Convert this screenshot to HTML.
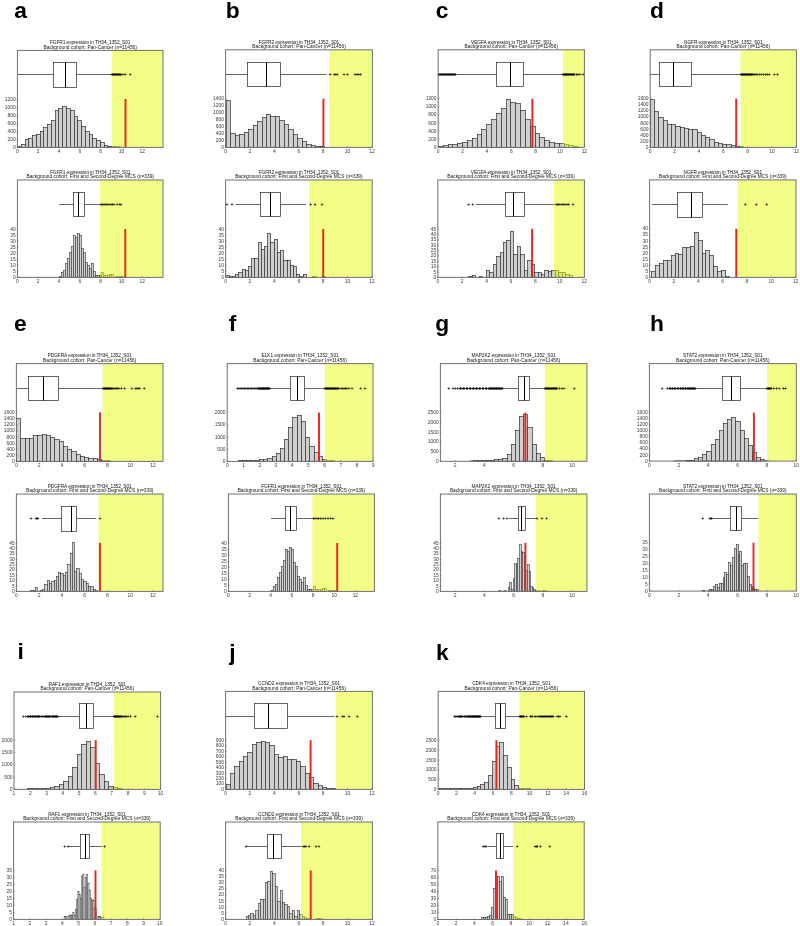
<!DOCTYPE html>
<html><head><meta charset="utf-8"><style>
html,body{margin:0;padding:0;background:#fff;}
svg{display:block;font-family:"Liberation Sans", sans-serif;will-change:transform;}
</style></head><body>
<svg width="800" height="926" viewBox="0 0 800 926">
<rect width="800" height="926" fill="#fff"/>
<g fill="#cfcfcf" stroke="#333" stroke-width="0.7"><rect x="17.5" y="146.5" width="4" height="0.9"/><rect x="21.5" y="144.5" width="4" height="2.9"/><rect x="25.5" y="139.5" width="3" height="7.9"/><rect x="28.5" y="138.5" width="4" height="8.9"/><rect x="32.5" y="135.5" width="4" height="11.9"/><rect x="36.5" y="134.5" width="4" height="12.9"/><rect x="40.5" y="131.5" width="3" height="15.9"/><rect x="43.5" y="127.5" width="4" height="19.9"/><rect x="47.5" y="124.5" width="4" height="22.9"/><rect x="51.5" y="120.5" width="4" height="26.9"/><rect x="55.5" y="110.5" width="3" height="36.9"/><rect x="58.5" y="108.5" width="4" height="38.9"/><rect x="62.5" y="106.5" width="4" height="40.9"/><rect x="66.5" y="108.5" width="4" height="38.9"/><rect x="70.5" y="110.5" width="4" height="36.9"/><rect x="74.5" y="116.5" width="3" height="30.9"/><rect x="77.5" y="120.5" width="4" height="26.9"/><rect x="81.5" y="126.5" width="4" height="20.9"/><rect x="85.5" y="131.5" width="4" height="15.9"/><rect x="89.5" y="134.5" width="3" height="12.9"/><rect x="92.5" y="138.5" width="4" height="8.9"/><rect x="96.5" y="140.5" width="4" height="6.9"/><rect x="100.5" y="142.5" width="4" height="4.9"/><rect x="104.5" y="145.5" width="3" height="1.9"/><rect x="107.5" y="146.5" width="4" height="0.9"/><rect x="111.5" y="146.5" width="4" height="0.9"/><rect x="115.5" y="146.5" width="4" height="0.9"/></g>
<g stroke="#333" stroke-width="0.75" fill="none"><path d="M17.4 74.5H53.5M76.5 74.5H112"/><rect x="53.5" y="62.5" width="23" height="25" fill="#fff"/></g>
<path d="M65.5 62.5V87.5" stroke="#000" stroke-width="1.0"/>
<rect x="112" y="50.4" width="51" height="97" fill="#e7fd0f" fill-opacity="0.5"/>
<g stroke="#000" stroke-opacity="0.7" stroke-width="0.85" fill="none"><path d="M110.75 74.5h2.5M112 73.25v2.5"/><path d="M111.45 74.5h2.5M112.7 73.25v2.5"/><path d="M112.15 74.5h2.5M113.4 73.25v2.5"/><path d="M112.85 74.5h2.5M114.1 73.25v2.5"/><path d="M113.55 74.5h2.5M114.8 73.25v2.5"/><path d="M114.25 74.5h2.5M115.5 73.25v2.5"/><path d="M114.95 74.5h2.5M116.2 73.25v2.5"/><path d="M115.65 74.5h2.5M116.9 73.25v2.5"/><path d="M116.35 74.5h2.5M117.6 73.25v2.5"/><path d="M117.05 74.5h2.5M118.3 73.25v2.5"/><path d="M117.75 74.5h2.5M119 73.25v2.5"/><path d="M118.45 74.5h2.5M119.7 73.25v2.5"/><path d="M119.15 74.5h2.5M120.4 73.25v2.5"/><path d="M119.85 74.5h2.5M121.1 73.25v2.5"/><path d="M121.75 74.5h2.5M123 73.25v2.5"/><path d="M124.05 74.5h2.5M125.3 73.25v2.5"/><path d="M128.95 74.5h2.5M130.2 73.25v2.5"/></g>
<rect x="124.55" y="99" width="1.9" height="48.4" fill="#f0201a"/>
<rect x="17.4" y="50.4" width="145.6" height="97" fill="none" stroke="#707070" stroke-width="1.0"/>
<path d="M17.4 147.4v-1.2M38.2 147.4v-1.2M59 147.4v-1.2M79.8 147.4v-1.2M100.6 147.4v-1.2M121.4 147.4v-1.2M142.2 147.4v-1.2M17.4 147.4h1.2M17.4 139.4h1.2M17.4 131.4h1.2M17.4 123.4h1.2M17.4 115.4h1.2M17.4 107.4h1.2M17.4 99.4h1.2" stroke="#555" stroke-width="0.5"/>
<g font-size="4.5" text-anchor="middle" fill="#3a3a3a"><text x="17.4" y="152.9" textLength="2.74" lengthAdjust="spacingAndGlyphs">0</text><text x="38.2" y="152.9" textLength="2.74" lengthAdjust="spacingAndGlyphs">2</text><text x="59" y="152.9" textLength="2.74" lengthAdjust="spacingAndGlyphs">4</text><text x="79.8" y="152.9" textLength="2.74" lengthAdjust="spacingAndGlyphs">6</text><text x="100.6" y="152.9" textLength="2.74" lengthAdjust="spacingAndGlyphs">8</text><text x="121.4" y="152.9" textLength="5.47" lengthAdjust="spacingAndGlyphs">10</text><text x="142.2" y="152.9" textLength="5.47" lengthAdjust="spacingAndGlyphs">12</text></g>
<g font-size="4.5" text-anchor="end" fill="#3a3a3a"><text x="15.8" y="148.9" textLength="2.74" lengthAdjust="spacingAndGlyphs">0</text><text x="15.8" y="140.9" textLength="8.21" lengthAdjust="spacingAndGlyphs">200</text><text x="15.8" y="132.9" textLength="8.21" lengthAdjust="spacingAndGlyphs">400</text><text x="15.8" y="124.9" textLength="8.21" lengthAdjust="spacingAndGlyphs">600</text><text x="15.8" y="116.9" textLength="8.21" lengthAdjust="spacingAndGlyphs">800</text><text x="15.8" y="108.9" textLength="10.94" lengthAdjust="spacingAndGlyphs">1000</text><text x="15.8" y="100.9" textLength="10.94" lengthAdjust="spacingAndGlyphs">1200</text></g>
<g font-size="4.8" letter-spacing="0" text-anchor="middle" fill="#111"><text x="90.2" y="44.1" textLength="80.55" lengthAdjust="spacing">FGFR1 expression in TH34_1352_S01</text><text x="90.2" y="48.6" textLength="93.47" lengthAdjust="spacing">Background cohort: Pan-Cancer (n=11456)</text></g>
<g fill="#cfcfcf" stroke="#333" stroke-width="0.58"><rect x="59.5" y="276.5" width="2" height="0.9"/><rect x="61.5" y="272.5" width="2" height="4.9"/><rect x="63.5" y="270.5" width="2" height="6.9"/><rect x="65.5" y="263.5" width="2" height="13.9"/><rect x="67.5" y="258.5" width="2" height="18.9"/><rect x="69.5" y="252.5" width="2" height="24.9"/><rect x="71.5" y="246.5" width="2" height="30.9"/><rect x="73.5" y="235.5" width="2" height="41.9"/><rect x="75.5" y="237.5" width="2" height="39.9"/><rect x="77.5" y="233.5" width="2" height="43.9"/><rect x="79.5" y="235.5" width="2" height="41.9"/><rect x="81.5" y="248.5" width="2" height="28.9"/><rect x="83.5" y="252.5" width="2" height="24.9"/><rect x="85.5" y="262.5" width="2" height="14.9"/><rect x="87.5" y="265.5" width="2" height="11.9"/><rect x="89.5" y="268.5" width="2" height="8.9"/><rect x="91.5" y="263.5" width="2" height="13.9"/><rect x="93.5" y="271.5" width="2" height="5.9"/><rect x="95.5" y="275.5" width="2" height="1.9"/><rect x="97.5" y="275.5" width="2" height="1.9"/><rect x="99.5" y="275.5" width="2" height="1.9"/><rect x="101.5" y="272.5" width="2" height="4.9"/><rect x="103.5" y="275.5" width="2" height="1.9"/><rect x="105.5" y="275.5" width="2" height="1.9"/><rect x="107.5" y="275.5" width="2" height="1.9"/><rect x="109.5" y="274.5" width="2" height="2.9"/><rect x="111.5" y="274.5" width="2" height="2.9"/><rect x="115.5" y="276.5" width="2" height="0.9"/><rect x="117.5" y="276.5" width="2" height="0.9"/><rect x="119.5" y="276.5" width="2" height="0.9"/><rect x="121.5" y="276.5" width="2" height="0.9"/></g>
<g stroke="#333" stroke-width="0.75" fill="none"><path d="M59.2 204.5H73.5M84.5 204.5H100"/><rect x="73.5" y="192.5" width="11" height="24" fill="#fff"/></g>
<path d="M78.5 192.5V216.5" stroke="#000" stroke-width="1.0"/>
<rect x="100" y="180" width="63" height="97.4" fill="#e7fd0f" fill-opacity="0.5"/>
<g stroke="#000" stroke-opacity="0.7" stroke-width="0.85" fill="none"><path d="M99.75 204.5h2.5M101 203.25v2.5"/><path d="M101.15 204.5h2.5M102.4 203.25v2.5"/><path d="M102.75 204.5h2.5M104 203.25v2.5"/><path d="M104.35 204.5h2.5M105.6 203.25v2.5"/><path d="M105.95 204.5h2.5M107.2 203.25v2.5"/><path d="M107.75 204.5h2.5M109 203.25v2.5"/><path d="M109.75 204.5h2.5M111 203.25v2.5"/><path d="M111.15 204.5h2.5M112.4 203.25v2.5"/><path d="M112.75 204.5h2.5M114 203.25v2.5"/><path d="M115.75 204.5h2.5M117 203.25v2.5"/><path d="M118.35 204.5h2.5M119.6 203.25v2.5"/><path d="M119.75 204.5h2.5M121 203.25v2.5"/></g>
<rect x="124.35" y="229" width="1.9" height="48.4" fill="#f0201a"/>
<rect x="17.4" y="180" width="145.6" height="97.4" fill="none" stroke="#707070" stroke-width="1.0"/>
<path d="M17.4 277.4v-1.2M38.2 277.4v-1.2M59 277.4v-1.2M79.8 277.4v-1.2M100.6 277.4v-1.2M121.4 277.4v-1.2M142.2 277.4v-1.2M17.4 277.4h1.2M17.4 271.35h1.2M17.4 265.3h1.2M17.4 259.25h1.2M17.4 253.2h1.2M17.4 247.15h1.2M17.4 241.1h1.2M17.4 235.05h1.2M17.4 229h1.2" stroke="#555" stroke-width="0.5"/>
<g font-size="4.5" text-anchor="middle" fill="#3a3a3a"><text x="17.4" y="282.9" textLength="2.74" lengthAdjust="spacingAndGlyphs">0</text><text x="38.2" y="282.9" textLength="2.74" lengthAdjust="spacingAndGlyphs">2</text><text x="59" y="282.9" textLength="2.74" lengthAdjust="spacingAndGlyphs">4</text><text x="79.8" y="282.9" textLength="2.74" lengthAdjust="spacingAndGlyphs">6</text><text x="100.6" y="282.9" textLength="2.74" lengthAdjust="spacingAndGlyphs">8</text><text x="121.4" y="282.9" textLength="5.47" lengthAdjust="spacingAndGlyphs">10</text><text x="142.2" y="282.9" textLength="5.47" lengthAdjust="spacingAndGlyphs">12</text></g>
<g font-size="4.5" text-anchor="end" fill="#3a3a3a"><text x="15.8" y="278.9" textLength="2.74" lengthAdjust="spacingAndGlyphs">0</text><text x="15.8" y="272.85" textLength="2.74" lengthAdjust="spacingAndGlyphs">5</text><text x="15.8" y="266.8" textLength="5.47" lengthAdjust="spacingAndGlyphs">10</text><text x="15.8" y="260.75" textLength="5.47" lengthAdjust="spacingAndGlyphs">15</text><text x="15.8" y="254.7" textLength="5.47" lengthAdjust="spacingAndGlyphs">20</text><text x="15.8" y="248.65" textLength="5.47" lengthAdjust="spacingAndGlyphs">25</text><text x="15.8" y="242.6" textLength="5.47" lengthAdjust="spacingAndGlyphs">30</text><text x="15.8" y="236.55" textLength="5.47" lengthAdjust="spacingAndGlyphs">35</text><text x="15.8" y="230.5" textLength="5.47" lengthAdjust="spacingAndGlyphs">40</text></g>
<g font-size="4.8" letter-spacing="0" text-anchor="middle" fill="#111"><text x="90.2" y="173.7" textLength="80.55" lengthAdjust="spacing">FGFR1 expression in TH34_1352_S01</text><text x="90.2" y="178.2" textLength="127.49" lengthAdjust="spacing">Background cohort: First and Second-Degree MCS (n=339)</text></g>
<g fill="#cfcfcf" stroke="#333" stroke-width="0.7"><rect x="226.5" y="100.5" width="4" height="46.9"/><rect x="230.5" y="133.5" width="5" height="13.9"/><rect x="235.5" y="135.5" width="4" height="11.9"/><rect x="239.5" y="134.5" width="5" height="12.9"/><rect x="244.5" y="132.5" width="4" height="14.9"/><rect x="248.5" y="129.5" width="5" height="17.9"/><rect x="253.5" y="125.5" width="4" height="21.9"/><rect x="257.5" y="121.5" width="5" height="25.9"/><rect x="262.5" y="117.5" width="4" height="29.9"/><rect x="266.5" y="114.5" width="4" height="32.9"/><rect x="270.5" y="116.5" width="5" height="30.9"/><rect x="275.5" y="116.5" width="4" height="30.9"/><rect x="279.5" y="120.5" width="5" height="26.9"/><rect x="284.5" y="124.5" width="4" height="22.9"/><rect x="288.5" y="129.5" width="5" height="17.9"/><rect x="293.5" y="134.5" width="4" height="12.9"/><rect x="297.5" y="138.5" width="5" height="8.9"/><rect x="302.5" y="141.5" width="4" height="5.9"/><rect x="306.5" y="144.5" width="5" height="2.9"/><rect x="311.5" y="145.5" width="4" height="1.9"/><rect x="315.5" y="146.5" width="5" height="0.9"/><rect x="320.5" y="146.5" width="4" height="0.9"/></g>
<g stroke="#333" stroke-width="0.75" fill="none"><path d="M225.6 74.5H247.5M280.5 74.5H326.6"/><rect x="247.5" y="62.5" width="33" height="24" fill="#fff"/></g>
<path d="M266.5 62.5V86.5" stroke="#000" stroke-width="1.0"/>
<rect x="329.2" y="49.8" width="43.2" height="97.6" fill="#e7fd0f" fill-opacity="0.5"/>
<g stroke="#000" stroke-opacity="0.7" stroke-width="0.85" fill="none"><path d="M328.95 74.5h2.5M330.2 73.25v2.5"/><path d="M333.15 74.5h2.5M334.4 73.25v2.5"/><path d="M334.55 74.5h2.5M335.8 73.25v2.5"/><path d="M336.15 74.5h2.5M337.4 73.25v2.5"/><path d="M342.75 74.5h2.5M344 73.25v2.5"/><path d="M346.15 74.5h2.5M347.4 73.25v2.5"/><path d="M353.75 74.5h2.5M355 73.25v2.5"/><path d="M355.75 74.5h2.5M357 73.25v2.5"/><path d="M357.35 74.5h2.5M358.6 73.25v2.5"/><path d="M359.35 74.5h2.5M360.6 73.25v2.5"/></g>
<rect x="322.45" y="98.7" width="1.9" height="48.7" fill="#f0201a"/>
<rect x="225.6" y="49.8" width="146.8" height="97.6" fill="none" stroke="#707070" stroke-width="1.0"/>
<path d="M225.6 147.4v-1.2M250 147.4v-1.2M274.4 147.4v-1.2M298.8 147.4v-1.2M323.2 147.4v-1.2M347.6 147.4v-1.2M372 147.4v-1.2M225.6 147.4h1.2M225.6 140.43h1.2M225.6 133.46h1.2M225.6 126.49h1.2M225.6 119.51h1.2M225.6 112.54h1.2M225.6 105.57h1.2M225.6 98.6h1.2" stroke="#555" stroke-width="0.5"/>
<g font-size="4.5" text-anchor="middle" fill="#3a3a3a"><text x="225.6" y="152.9" textLength="2.74" lengthAdjust="spacingAndGlyphs">0</text><text x="250" y="152.9" textLength="2.74" lengthAdjust="spacingAndGlyphs">2</text><text x="274.4" y="152.9" textLength="2.74" lengthAdjust="spacingAndGlyphs">4</text><text x="298.8" y="152.9" textLength="2.74" lengthAdjust="spacingAndGlyphs">6</text><text x="323.2" y="152.9" textLength="2.74" lengthAdjust="spacingAndGlyphs">8</text><text x="347.6" y="152.9" textLength="5.47" lengthAdjust="spacingAndGlyphs">10</text><text x="372" y="152.9" textLength="5.47" lengthAdjust="spacingAndGlyphs">12</text></g>
<g font-size="4.5" text-anchor="end" fill="#3a3a3a"><text x="224" y="148.9" textLength="2.74" lengthAdjust="spacingAndGlyphs">0</text><text x="224" y="141.93" textLength="8.21" lengthAdjust="spacingAndGlyphs">200</text><text x="224" y="134.96" textLength="8.21" lengthAdjust="spacingAndGlyphs">400</text><text x="224" y="127.99" textLength="8.21" lengthAdjust="spacingAndGlyphs">600</text><text x="224" y="121.01" textLength="8.21" lengthAdjust="spacingAndGlyphs">800</text><text x="224" y="114.04" textLength="10.94" lengthAdjust="spacingAndGlyphs">1000</text><text x="224" y="107.07" textLength="10.94" lengthAdjust="spacingAndGlyphs">1200</text><text x="224" y="100.1" textLength="10.94" lengthAdjust="spacingAndGlyphs">1400</text></g>
<g font-size="4.8" letter-spacing="0" text-anchor="middle" fill="#111"><text x="299" y="43.5" textLength="80.55" lengthAdjust="spacing">FGFR2 expression in TH34_1352_S01</text><text x="299" y="48" textLength="93.47" lengthAdjust="spacing">Background cohort: Pan-Cancer (n=11456)</text></g>
<g fill="#cfcfcf" stroke="#333" stroke-width="0.7"><rect x="225.5" y="275.5" width="4" height="1.9"/><rect x="229.5" y="276.5" width="3" height="0.9"/><rect x="232.5" y="276.5" width="3" height="0.9"/><rect x="235.5" y="274.5" width="3" height="2.9"/><rect x="238.5" y="272.5" width="4" height="4.9"/><rect x="242.5" y="269.5" width="3" height="7.9"/><rect x="245.5" y="270.5" width="3" height="6.9"/><rect x="248.5" y="266.5" width="3" height="10.9"/><rect x="251.5" y="258.5" width="3" height="18.9"/><rect x="254.5" y="258.5" width="4" height="18.9"/><rect x="258.5" y="242.5" width="3" height="34.9"/><rect x="261.5" y="249.5" width="3" height="27.9"/><rect x="264.5" y="246.5" width="3" height="30.9"/><rect x="267.5" y="233.5" width="3" height="43.9"/><rect x="270.5" y="242.5" width="4" height="34.9"/><rect x="274.5" y="239.5" width="3" height="37.9"/><rect x="277.5" y="252.5" width="3" height="24.9"/><rect x="280.5" y="250.5" width="3" height="26.9"/><rect x="283.5" y="260.5" width="4" height="16.9"/><rect x="287.5" y="260.5" width="3" height="16.9"/><rect x="290.5" y="265.5" width="3" height="11.9"/><rect x="293.5" y="266.5" width="3" height="10.9"/><rect x="296.5" y="274.5" width="3" height="2.9"/><rect x="299.5" y="276.5" width="4" height="0.9"/><rect x="303.5" y="274.5" width="3" height="2.9"/><rect x="312.5" y="276.5" width="4" height="0.9"/><rect x="322.5" y="276.5" width="3" height="0.9"/></g>
<g stroke="#333" stroke-width="0.75" fill="none"><path d="M235.6 204.5H260.5M280.5 204.5H306"/><rect x="260.5" y="192.5" width="20" height="24" fill="#fff"/></g>
<path d="M270.5 192.5V216.5" stroke="#000" stroke-width="1.0"/>
<rect x="309.2" y="180" width="63" height="97.4" fill="#e7fd0f" fill-opacity="0.5"/>
<g stroke="#000" stroke-opacity="0.7" stroke-width="0.85" fill="none"><path d="M225.75 204.5h2.5M227 203.25v2.5"/><path d="M230.75 204.5h2.5M232 203.25v2.5"/><path d="M309.35 204.5h2.5M310.6 203.25v2.5"/><path d="M313.75 204.5h2.5M315 203.25v2.5"/><path d="M320.75 204.5h2.5M322 203.25v2.5"/></g>
<rect x="322.25" y="229" width="1.9" height="48.4" fill="#f0201a"/>
<rect x="225.6" y="180" width="146.6" height="97.4" fill="none" stroke="#707070" stroke-width="1.0"/>
<path d="M225.6 277.4v-1.2M250 277.4v-1.2M274.4 277.4v-1.2M298.8 277.4v-1.2M323.2 277.4v-1.2M347.6 277.4v-1.2M372 277.4v-1.2M225.6 277.4h1.2M225.6 271.35h1.2M225.6 265.3h1.2M225.6 259.25h1.2M225.6 253.2h1.2M225.6 247.15h1.2M225.6 241.1h1.2M225.6 235.05h1.2M225.6 229h1.2" stroke="#555" stroke-width="0.5"/>
<g font-size="4.5" text-anchor="middle" fill="#3a3a3a"><text x="225.6" y="282.9" textLength="2.74" lengthAdjust="spacingAndGlyphs">0</text><text x="250" y="282.9" textLength="2.74" lengthAdjust="spacingAndGlyphs">2</text><text x="274.4" y="282.9" textLength="2.74" lengthAdjust="spacingAndGlyphs">4</text><text x="298.8" y="282.9" textLength="2.74" lengthAdjust="spacingAndGlyphs">6</text><text x="323.2" y="282.9" textLength="2.74" lengthAdjust="spacingAndGlyphs">8</text><text x="347.6" y="282.9" textLength="5.47" lengthAdjust="spacingAndGlyphs">10</text><text x="372" y="282.9" textLength="5.47" lengthAdjust="spacingAndGlyphs">12</text></g>
<g font-size="4.5" text-anchor="end" fill="#3a3a3a"><text x="224" y="278.9" textLength="2.74" lengthAdjust="spacingAndGlyphs">0</text><text x="224" y="272.85" textLength="2.74" lengthAdjust="spacingAndGlyphs">5</text><text x="224" y="266.8" textLength="5.47" lengthAdjust="spacingAndGlyphs">10</text><text x="224" y="260.75" textLength="5.47" lengthAdjust="spacingAndGlyphs">15</text><text x="224" y="254.7" textLength="5.47" lengthAdjust="spacingAndGlyphs">20</text><text x="224" y="248.65" textLength="5.47" lengthAdjust="spacingAndGlyphs">25</text><text x="224" y="242.6" textLength="5.47" lengthAdjust="spacingAndGlyphs">30</text><text x="224" y="236.55" textLength="5.47" lengthAdjust="spacingAndGlyphs">35</text><text x="224" y="230.5" textLength="5.47" lengthAdjust="spacingAndGlyphs">40</text></g>
<g font-size="4.8" letter-spacing="0" text-anchor="middle" fill="#111"><text x="298.9" y="173.7" textLength="80.55" lengthAdjust="spacing">FGFR2 expression in TH34_1352_S01</text><text x="298.9" y="178.2" textLength="127.49" lengthAdjust="spacing">Background cohort: First and Second-Degree MCS (n=339)</text></g>
<g fill="#cfcfcf" stroke="#333" stroke-width="0.7"><rect x="438.5" y="146.5" width="5" height="0.9"/><rect x="443.5" y="145.5" width="5" height="1.9"/><rect x="448.5" y="144.5" width="4" height="2.9"/><rect x="452.5" y="144.5" width="5" height="2.9"/><rect x="457.5" y="143.5" width="5" height="3.9"/><rect x="462.5" y="142.5" width="5" height="4.9"/><rect x="467.5" y="140.5" width="5" height="6.9"/><rect x="472.5" y="138.5" width="5" height="8.9"/><rect x="477.5" y="134.5" width="4" height="12.9"/><rect x="481.5" y="129.5" width="5" height="17.9"/><rect x="486.5" y="124.5" width="5" height="22.9"/><rect x="491.5" y="119.5" width="5" height="27.9"/><rect x="496.5" y="113.5" width="5" height="33.9"/><rect x="501.5" y="108.5" width="5" height="38.9"/><rect x="506.5" y="99.5" width="4" height="47.9"/><rect x="510.5" y="102.5" width="5" height="44.9"/><rect x="515.5" y="103.5" width="5" height="43.9"/><rect x="520.5" y="110.5" width="5" height="36.9"/><rect x="525.5" y="119.5" width="5" height="27.9"/><rect x="530.5" y="126.5" width="5" height="20.9"/><rect x="535.5" y="133.5" width="4" height="13.9"/><rect x="539.5" y="137.5" width="5" height="9.9"/><rect x="544.5" y="140.5" width="5" height="6.9"/><rect x="549.5" y="142.5" width="5" height="4.9"/><rect x="554.5" y="143.5" width="5" height="3.9"/><rect x="559.5" y="143.5" width="5" height="3.9"/><rect x="564.5" y="144.5" width="4" height="2.9"/><rect x="568.5" y="145.5" width="5" height="1.9"/><rect x="573.5" y="146.5" width="5" height="0.9"/></g>
<g stroke="#333" stroke-width="0.75" fill="none"><path d="M456 74.5H496.5M523.5 74.5H563"/><rect x="496.5" y="62.5" width="27" height="24" fill="#fff"/></g>
<path d="M510.5 62.5V86.5" stroke="#000" stroke-width="1.0"/>
<rect x="563" y="49.8" width="21.4" height="97.6" fill="#e7fd0f" fill-opacity="0.5"/>
<g stroke="#000" stroke-opacity="0.7" stroke-width="0.85" fill="none"><path d="M437.35 74.5h2.5M438.6 73.25v2.5"/><path d="M438.05 74.5h2.5M439.3 73.25v2.5"/><path d="M438.75 74.5h2.5M440 73.25v2.5"/><path d="M439.45 74.5h2.5M440.7 73.25v2.5"/><path d="M440.15 74.5h2.5M441.4 73.25v2.5"/><path d="M440.85 74.5h2.5M442.1 73.25v2.5"/><path d="M441.55 74.5h2.5M442.8 73.25v2.5"/><path d="M442.25 74.5h2.5M443.5 73.25v2.5"/><path d="M442.95 74.5h2.5M444.2 73.25v2.5"/><path d="M443.65 74.5h2.5M444.9 73.25v2.5"/><path d="M444.35 74.5h2.5M445.6 73.25v2.5"/><path d="M445.05 74.5h2.5M446.3 73.25v2.5"/><path d="M445.75 74.5h2.5M447 73.25v2.5"/><path d="M446.45 74.5h2.5M447.7 73.25v2.5"/><path d="M447.15 74.5h2.5M448.4 73.25v2.5"/><path d="M447.85 74.5h2.5M449.1 73.25v2.5"/><path d="M448.55 74.5h2.5M449.8 73.25v2.5"/><path d="M449.25 74.5h2.5M450.5 73.25v2.5"/><path d="M449.95 74.5h2.5M451.2 73.25v2.5"/><path d="M450.65 74.5h2.5M451.9 73.25v2.5"/><path d="M451.35 74.5h2.5M452.6 73.25v2.5"/><path d="M452.05 74.5h2.5M453.3 73.25v2.5"/><path d="M452.75 74.5h2.5M454 73.25v2.5"/><path d="M453.45 74.5h2.5M454.7 73.25v2.5"/><path d="M454.15 74.5h2.5M455.4 73.25v2.5"/><path d="M561.75 74.5h2.5M563 73.25v2.5"/><path d="M562.35 74.5h2.5M563.6 73.25v2.5"/><path d="M562.95 74.5h2.5M564.2 73.25v2.5"/><path d="M563.55 74.5h2.5M564.8 73.25v2.5"/><path d="M564.15 74.5h2.5M565.4 73.25v2.5"/><path d="M564.75 74.5h2.5M566 73.25v2.5"/><path d="M565.35 74.5h2.5M566.6 73.25v2.5"/><path d="M565.95 74.5h2.5M567.2 73.25v2.5"/><path d="M566.55 74.5h2.5M567.8 73.25v2.5"/><path d="M567.15 74.5h2.5M568.4 73.25v2.5"/><path d="M567.75 74.5h2.5M569 73.25v2.5"/><path d="M568.35 74.5h2.5M569.6 73.25v2.5"/><path d="M568.95 74.5h2.5M570.2 73.25v2.5"/><path d="M569.55 74.5h2.5M570.8 73.25v2.5"/><path d="M570.15 74.5h2.5M571.4 73.25v2.5"/><path d="M570.75 74.5h2.5M572 73.25v2.5"/><path d="M571.35 74.5h2.5M572.6 73.25v2.5"/><path d="M571.95 74.5h2.5M573.2 73.25v2.5"/><path d="M572.55 74.5h2.5M573.8 73.25v2.5"/><path d="M573.15 74.5h2.5M574.4 73.25v2.5"/><path d="M575.25 74.5h2.5M576.5 73.25v2.5"/><path d="M576.75 74.5h2.5M578 73.25v2.5"/><path d="M578.75 74.5h2.5M580 73.25v2.5"/><path d="M581.75 74.5h2.5M583 73.25v2.5"/></g>
<rect x="531.45" y="98.8" width="1.9" height="48.6" fill="#f0201a"/>
<rect x="438.2" y="49.8" width="146.2" height="97.6" fill="none" stroke="#707070" stroke-width="1.0"/>
<path d="M438.2 147.4v-1.2M462.56 147.4v-1.2M486.92 147.4v-1.2M511.28 147.4v-1.2M535.64 147.4v-1.2M560 147.4v-1.2M584.36 147.4v-1.2M438.2 147.4h1.2M438.2 139.27h1.2M438.2 131.13h1.2M438.2 123h1.2M438.2 114.87h1.2M438.2 106.73h1.2M438.2 98.6h1.2" stroke="#555" stroke-width="0.5"/>
<g font-size="4.5" text-anchor="middle" fill="#3a3a3a"><text x="438.2" y="152.9" textLength="2.74" lengthAdjust="spacingAndGlyphs">0</text><text x="462.56" y="152.9" textLength="2.74" lengthAdjust="spacingAndGlyphs">2</text><text x="486.92" y="152.9" textLength="2.74" lengthAdjust="spacingAndGlyphs">4</text><text x="511.28" y="152.9" textLength="2.74" lengthAdjust="spacingAndGlyphs">6</text><text x="535.64" y="152.9" textLength="2.74" lengthAdjust="spacingAndGlyphs">8</text><text x="560" y="152.9" textLength="5.47" lengthAdjust="spacingAndGlyphs">10</text><text x="584.36" y="152.9" textLength="5.47" lengthAdjust="spacingAndGlyphs">12</text></g>
<g font-size="4.5" text-anchor="end" fill="#3a3a3a"><text x="436.6" y="148.9" textLength="2.74" lengthAdjust="spacingAndGlyphs">0</text><text x="436.6" y="140.77" textLength="8.21" lengthAdjust="spacingAndGlyphs">200</text><text x="436.6" y="132.63" textLength="8.21" lengthAdjust="spacingAndGlyphs">400</text><text x="436.6" y="124.5" textLength="8.21" lengthAdjust="spacingAndGlyphs">600</text><text x="436.6" y="116.37" textLength="8.21" lengthAdjust="spacingAndGlyphs">800</text><text x="436.6" y="108.23" textLength="10.94" lengthAdjust="spacingAndGlyphs">1000</text><text x="436.6" y="100.1" textLength="10.94" lengthAdjust="spacingAndGlyphs">1200</text></g>
<g font-size="4.8" letter-spacing="0" text-anchor="middle" fill="#111"><text x="511.3" y="43.5" textLength="80.56" lengthAdjust="spacing">VEGFA expression in TH34_1352_S01</text><text x="511.3" y="48" textLength="93.47" lengthAdjust="spacing">Background cohort: Pan-Cancer (n=11456)</text></g>
<g fill="#cfcfcf" stroke="#333" stroke-width="0.7"><rect x="468.5" y="276.5" width="4" height="0.9"/><rect x="472.5" y="275.5" width="3" height="1.9"/><rect x="479.5" y="276.5" width="3" height="0.9"/><rect x="486.5" y="270.5" width="3" height="6.9"/><rect x="489.5" y="272.5" width="4" height="4.9"/><rect x="493.5" y="264.5" width="3" height="12.9"/><rect x="496.5" y="256.5" width="4" height="20.9"/><rect x="500.5" y="252.5" width="3" height="24.9"/><rect x="503.5" y="242.5" width="3" height="34.9"/><rect x="506.5" y="240.5" width="4" height="36.9"/><rect x="510.5" y="231.5" width="3" height="45.9"/><rect x="513.5" y="254.5" width="4" height="22.9"/><rect x="517.5" y="246.5" width="3" height="30.9"/><rect x="520.5" y="254.5" width="4" height="22.9"/><rect x="524.5" y="270.5" width="3" height="6.9"/><rect x="527.5" y="260.5" width="4" height="16.9"/><rect x="531.5" y="264.5" width="3" height="12.9"/><rect x="534.5" y="272.5" width="4" height="4.9"/><rect x="538.5" y="272.5" width="3" height="4.9"/><rect x="541.5" y="274.5" width="3" height="2.9"/><rect x="544.5" y="270.5" width="4" height="6.9"/><rect x="548.5" y="271.5" width="3" height="5.9"/><rect x="551.5" y="270.5" width="4" height="6.9"/><rect x="555.5" y="270.5" width="3" height="6.9"/><rect x="558.5" y="272.5" width="4" height="4.9"/><rect x="562.5" y="272.5" width="3" height="4.9"/><rect x="565.5" y="274.5" width="4" height="2.9"/><rect x="569.5" y="275.5" width="3" height="1.9"/></g>
<g stroke="#333" stroke-width="0.75" fill="none"><path d="M476 204.5H505.5M524.5 204.5H554"/><rect x="505.5" y="192.5" width="19" height="24" fill="#fff"/></g>
<path d="M513.5 192.5V216.5" stroke="#000" stroke-width="1.0"/>
<rect x="554" y="180" width="30.4" height="97.4" fill="#e7fd0f" fill-opacity="0.5"/>
<g stroke="#000" stroke-opacity="0.7" stroke-width="0.85" fill="none"><path d="M467.35 204.5h2.5M468.6 203.25v2.5"/><path d="M471.35 204.5h2.5M472.6 203.25v2.5"/><path d="M554.75 204.5h2.5M556 203.25v2.5"/><path d="M556.15 204.5h2.5M557.4 203.25v2.5"/><path d="M557.35 204.5h2.5M558.6 203.25v2.5"/><path d="M558.75 204.5h2.5M560 203.25v2.5"/><path d="M560.75 204.5h2.5M562 203.25v2.5"/><path d="M562.15 204.5h2.5M563.4 203.25v2.5"/><path d="M563.75 204.5h2.5M565 203.25v2.5"/><path d="M565.75 204.5h2.5M567 203.25v2.5"/><path d="M567.35 204.5h2.5M568.6 203.25v2.5"/><path d="M571.75 204.5h2.5M573 203.25v2.5"/></g>
<rect x="531.15" y="228.75" width="1.9" height="48.65" fill="#f0201a"/>
<rect x="437.8" y="180" width="146.6" height="97.4" fill="none" stroke="#707070" stroke-width="1.0"/>
<path d="M437.8 277.4v-1.2M462.2 277.4v-1.2M486.6 277.4v-1.2M511 277.4v-1.2M535.4 277.4v-1.2M559.8 277.4v-1.2M584.2 277.4v-1.2M437.8 277.4h1.2M437.8 272.02h1.2M437.8 266.64h1.2M437.8 261.27h1.2M437.8 255.89h1.2M437.8 250.51h1.2M437.8 245.13h1.2M437.8 239.76h1.2M437.8 234.38h1.2M437.8 229h1.2" stroke="#555" stroke-width="0.5"/>
<g font-size="4.5" text-anchor="middle" fill="#3a3a3a"><text x="437.8" y="282.9" textLength="2.74" lengthAdjust="spacingAndGlyphs">0</text><text x="462.2" y="282.9" textLength="2.74" lengthAdjust="spacingAndGlyphs">2</text><text x="486.6" y="282.9" textLength="2.74" lengthAdjust="spacingAndGlyphs">4</text><text x="511" y="282.9" textLength="2.74" lengthAdjust="spacingAndGlyphs">6</text><text x="535.4" y="282.9" textLength="2.74" lengthAdjust="spacingAndGlyphs">8</text><text x="559.8" y="282.9" textLength="5.47" lengthAdjust="spacingAndGlyphs">10</text><text x="584.2" y="282.9" textLength="5.47" lengthAdjust="spacingAndGlyphs">12</text></g>
<g font-size="4.5" text-anchor="end" fill="#3a3a3a"><text x="436.2" y="278.9" textLength="2.74" lengthAdjust="spacingAndGlyphs">0</text><text x="436.2" y="273.52" textLength="2.74" lengthAdjust="spacingAndGlyphs">5</text><text x="436.2" y="268.14" textLength="5.47" lengthAdjust="spacingAndGlyphs">10</text><text x="436.2" y="262.77" textLength="5.47" lengthAdjust="spacingAndGlyphs">15</text><text x="436.2" y="257.39" textLength="5.47" lengthAdjust="spacingAndGlyphs">20</text><text x="436.2" y="252.01" textLength="5.47" lengthAdjust="spacingAndGlyphs">25</text><text x="436.2" y="246.63" textLength="5.47" lengthAdjust="spacingAndGlyphs">30</text><text x="436.2" y="241.26" textLength="5.47" lengthAdjust="spacingAndGlyphs">35</text><text x="436.2" y="235.88" textLength="5.47" lengthAdjust="spacingAndGlyphs">40</text><text x="436.2" y="230.5" textLength="5.47" lengthAdjust="spacingAndGlyphs">45</text></g>
<g font-size="4.8" letter-spacing="0" text-anchor="middle" fill="#111"><text x="511.1" y="173.7" textLength="80.56" lengthAdjust="spacing">VEGFA expression in TH34_1352_S01</text><text x="511.1" y="178.2" textLength="127.49" lengthAdjust="spacing">Background cohort: First and Second-Degree MCS (n=339)</text></g>
<g fill="#cfcfcf" stroke="#333" stroke-width="0.7"><rect x="650.5" y="99.5" width="4" height="47.9"/><rect x="654.5" y="111.5" width="4" height="35.9"/><rect x="658.5" y="117.5" width="5" height="29.9"/><rect x="663.5" y="120.5" width="4" height="26.9"/><rect x="667.5" y="124.5" width="4" height="22.9"/><rect x="671.5" y="124.5" width="4" height="22.9"/><rect x="675.5" y="126.5" width="5" height="20.9"/><rect x="680.5" y="127.5" width="4" height="19.9"/><rect x="684.5" y="128.5" width="4" height="18.9"/><rect x="688.5" y="129.5" width="4" height="17.9"/><rect x="692.5" y="129.5" width="5" height="17.9"/><rect x="697.5" y="132.5" width="4" height="14.9"/><rect x="701.5" y="135.5" width="4" height="11.9"/><rect x="705.5" y="137.5" width="4" height="9.9"/><rect x="709.5" y="139.5" width="5" height="7.9"/><rect x="714.5" y="142.5" width="4" height="4.9"/><rect x="718.5" y="143.5" width="4" height="3.9"/><rect x="722.5" y="144.5" width="4" height="2.9"/><rect x="726.5" y="144.5" width="5" height="2.9"/><rect x="731.5" y="145.5" width="4" height="1.9"/><rect x="735.5" y="146.5" width="4" height="0.9"/><rect x="739.5" y="146.5" width="4" height="0.9"/></g>
<g stroke="#333" stroke-width="0.75" fill="none"><path d="M650.2 74.5H659.5M691.5 74.5H740.6"/><rect x="659.5" y="62.5" width="32" height="24" fill="#fff"/></g>
<path d="M673.5 62.5V86.5" stroke="#000" stroke-width="1.0"/>
<rect x="740.6" y="49.8" width="55.8" height="97.6" fill="#e7fd0f" fill-opacity="0.5"/>
<g stroke="#000" stroke-opacity="0.7" stroke-width="0.85" fill="none"><path d="M739.75 74.5h2.5M741 73.25v2.5"/><path d="M740.35 74.5h2.5M741.6 73.25v2.5"/><path d="M740.95 74.5h2.5M742.2 73.25v2.5"/><path d="M741.55 74.5h2.5M742.8 73.25v2.5"/><path d="M742.15 74.5h2.5M743.4 73.25v2.5"/><path d="M742.75 74.5h2.5M744 73.25v2.5"/><path d="M743.35 74.5h2.5M744.6 73.25v2.5"/><path d="M743.95 74.5h2.5M745.2 73.25v2.5"/><path d="M744.55 74.5h2.5M745.8 73.25v2.5"/><path d="M745.15 74.5h2.5M746.4 73.25v2.5"/><path d="M745.75 74.5h2.5M747 73.25v2.5"/><path d="M746.35 74.5h2.5M747.6 73.25v2.5"/><path d="M746.95 74.5h2.5M748.2 73.25v2.5"/><path d="M747.55 74.5h2.5M748.8 73.25v2.5"/><path d="M748.15 74.5h2.5M749.4 73.25v2.5"/><path d="M748.75 74.5h2.5M750 73.25v2.5"/><path d="M749.35 74.5h2.5M750.6 73.25v2.5"/><path d="M749.95 74.5h2.5M751.2 73.25v2.5"/><path d="M750.55 74.5h2.5M751.8 73.25v2.5"/><path d="M751.25 74.5h2.5M752.5 73.25v2.5"/><path d="M752.45 74.5h2.5M753.7 73.25v2.5"/><path d="M753.65 74.5h2.5M754.9 73.25v2.5"/><path d="M754.85 74.5h2.5M756.1 73.25v2.5"/><path d="M756.05 74.5h2.5M757.3 73.25v2.5"/><path d="M758.15 74.5h2.5M759.4 73.25v2.5"/><path d="M760 74.5h2.5M761.25 73.25v2.5"/><path d="M762.15 74.5h2.5M763.4 73.25v2.5"/><path d="M764.35 74.5h2.5M765.6 73.25v2.5"/><path d="M766.25 74.5h2.5M767.5 73.25v2.5"/><path d="M768 74.5h2.5M769.25 73.25v2.5"/><path d="M773.15 74.5h2.5M774.4 73.25v2.5"/><path d="M776.25 74.5h2.5M777.5 73.25v2.5"/></g>
<rect x="735.25" y="98.6" width="1.9" height="48.8" fill="#f0201a"/>
<rect x="650.2" y="49.8" width="146.2" height="97.6" fill="none" stroke="#707070" stroke-width="1.0"/>
<path d="M650.2 147.4v-1.2M674.56 147.4v-1.2M698.92 147.4v-1.2M723.28 147.4v-1.2M747.64 147.4v-1.2M772 147.4v-1.2M796.36 147.4v-1.2M650.2 147.4h1.2M650.2 141.3h1.2M650.2 135.2h1.2M650.2 129.1h1.2M650.2 123h1.2M650.2 116.9h1.2M650.2 110.8h1.2M650.2 104.7h1.2M650.2 98.6h1.2" stroke="#555" stroke-width="0.5"/>
<g font-size="4.5" text-anchor="middle" fill="#3a3a3a"><text x="650.2" y="152.9" textLength="2.74" lengthAdjust="spacingAndGlyphs">0</text><text x="674.56" y="152.9" textLength="2.74" lengthAdjust="spacingAndGlyphs">2</text><text x="698.92" y="152.9" textLength="2.74" lengthAdjust="spacingAndGlyphs">4</text><text x="723.28" y="152.9" textLength="2.74" lengthAdjust="spacingAndGlyphs">6</text><text x="747.64" y="152.9" textLength="2.74" lengthAdjust="spacingAndGlyphs">8</text><text x="772" y="152.9" textLength="5.47" lengthAdjust="spacingAndGlyphs">10</text><text x="796.36" y="152.9" textLength="5.47" lengthAdjust="spacingAndGlyphs">12</text></g>
<g font-size="4.5" text-anchor="end" fill="#3a3a3a"><text x="648.6" y="148.9" textLength="2.74" lengthAdjust="spacingAndGlyphs">0</text><text x="648.6" y="142.8" textLength="8.21" lengthAdjust="spacingAndGlyphs">200</text><text x="648.6" y="136.7" textLength="8.21" lengthAdjust="spacingAndGlyphs">400</text><text x="648.6" y="130.6" textLength="8.21" lengthAdjust="spacingAndGlyphs">600</text><text x="648.6" y="124.5" textLength="8.21" lengthAdjust="spacingAndGlyphs">800</text><text x="648.6" y="118.4" textLength="10.94" lengthAdjust="spacingAndGlyphs">1000</text><text x="648.6" y="112.3" textLength="10.94" lengthAdjust="spacingAndGlyphs">1200</text><text x="648.6" y="106.2" textLength="10.94" lengthAdjust="spacingAndGlyphs">1400</text><text x="648.6" y="100.1" textLength="10.94" lengthAdjust="spacingAndGlyphs">1600</text></g>
<g font-size="4.8" letter-spacing="0" text-anchor="middle" fill="#111"><text x="723.3" y="43.5" textLength="78.55" lengthAdjust="spacing">NGFR expression in TH34_1352_S01</text><text x="723.3" y="48" textLength="93.47" lengthAdjust="spacing">Background cohort: Pan-Cancer (n=11456)</text></g>
<g fill="#cfcfcf" stroke="#333" stroke-width="0.7"><rect x="651.5" y="271.5" width="4" height="5.9"/><rect x="655.5" y="265.5" width="4" height="11.9"/><rect x="659.5" y="263.5" width="4" height="13.9"/><rect x="663.5" y="260.5" width="4" height="16.9"/><rect x="667.5" y="260.5" width="4" height="16.9"/><rect x="671.5" y="255.5" width="4" height="21.9"/><rect x="675.5" y="253.5" width="3" height="23.9"/><rect x="678.5" y="254.5" width="4" height="22.9"/><rect x="682.5" y="247.5" width="4" height="29.9"/><rect x="686.5" y="247.5" width="4" height="29.9"/><rect x="690.5" y="246.5" width="4" height="30.9"/><rect x="694.5" y="232.5" width="4" height="44.9"/><rect x="698.5" y="240.5" width="4" height="36.9"/><rect x="702.5" y="253.5" width="3" height="23.9"/><rect x="705.5" y="250.5" width="4" height="26.9"/><rect x="709.5" y="255.5" width="4" height="21.9"/><rect x="713.5" y="266.5" width="4" height="10.9"/><rect x="717.5" y="271.5" width="4" height="5.9"/><rect x="721.5" y="270.5" width="4" height="6.9"/><rect x="725.5" y="276.5" width="4" height="0.9"/></g>
<g stroke="#333" stroke-width="0.75" fill="none"><path d="M652.1 204.5H677.5M702.5 204.5H727.8"/><rect x="677.5" y="192.5" width="25" height="25" fill="#fff"/></g>
<path d="M691.5 192.5V217.5" stroke="#000" stroke-width="1.0"/>
<rect x="737.5" y="179.9" width="58.5" height="97.5" fill="#e7fd0f" fill-opacity="0.5"/>
<g stroke="#000" stroke-opacity="0.7" stroke-width="0.85" fill="none"><path d="M744.15 204.5h2.5M745.4 203.25v2.5"/><path d="M755.05 204.5h2.5M756.3 203.25v2.5"/><path d="M765.35 204.5h2.5M766.6 203.25v2.5"/></g>
<rect x="735.3" y="228.8" width="1.9" height="48.6" fill="#f0201a"/>
<rect x="649.6" y="179.9" width="146.4" height="97.5" fill="none" stroke="#707070" stroke-width="1.0"/>
<path d="M649.6 277.4v-1.2M673.94 277.4v-1.2M698.28 277.4v-1.2M722.62 277.4v-1.2M746.96 277.4v-1.2M771.3 277.4v-1.2M795.64 277.4v-1.2M649.6 277.4h1.2M649.6 271.34h1.2M649.6 265.27h1.2M649.6 259.21h1.2M649.6 253.15h1.2M649.6 247.09h1.2M649.6 241.03h1.2M649.6 234.96h1.2M649.6 228.9h1.2" stroke="#555" stroke-width="0.5"/>
<g font-size="4.5" text-anchor="middle" fill="#3a3a3a"><text x="649.6" y="282.9" textLength="2.74" lengthAdjust="spacingAndGlyphs">0</text><text x="673.94" y="282.9" textLength="2.74" lengthAdjust="spacingAndGlyphs">2</text><text x="698.28" y="282.9" textLength="2.74" lengthAdjust="spacingAndGlyphs">4</text><text x="722.62" y="282.9" textLength="2.74" lengthAdjust="spacingAndGlyphs">6</text><text x="746.96" y="282.9" textLength="2.74" lengthAdjust="spacingAndGlyphs">8</text><text x="771.3" y="282.9" textLength="5.47" lengthAdjust="spacingAndGlyphs">10</text><text x="795.64" y="282.9" textLength="5.47" lengthAdjust="spacingAndGlyphs">12</text></g>
<g font-size="4.5" text-anchor="end" fill="#3a3a3a"><text x="648" y="278.9" textLength="2.74" lengthAdjust="spacingAndGlyphs">0</text><text x="648" y="272.84" textLength="2.74" lengthAdjust="spacingAndGlyphs">5</text><text x="648" y="266.77" textLength="5.47" lengthAdjust="spacingAndGlyphs">10</text><text x="648" y="260.71" textLength="5.47" lengthAdjust="spacingAndGlyphs">15</text><text x="648" y="254.65" textLength="5.47" lengthAdjust="spacingAndGlyphs">20</text><text x="648" y="248.59" textLength="5.47" lengthAdjust="spacingAndGlyphs">25</text><text x="648" y="242.53" textLength="5.47" lengthAdjust="spacingAndGlyphs">30</text><text x="648" y="236.46" textLength="5.47" lengthAdjust="spacingAndGlyphs">35</text><text x="648" y="230.4" textLength="5.47" lengthAdjust="spacingAndGlyphs">40</text></g>
<g font-size="4.8" letter-spacing="0" text-anchor="middle" fill="#111"><text x="722.8" y="173.6" textLength="78.55" lengthAdjust="spacing">NGFR expression in TH34_1352_S01</text><text x="722.8" y="178.1" textLength="127.49" lengthAdjust="spacing">Background cohort: First and Second-Degree MCS (n=339)</text></g>
<g fill="#cfcfcf" stroke="#333" stroke-width="0.7"><rect x="16.5" y="418.5" width="4" height="42.9"/><rect x="20.5" y="438.5" width="5" height="22.9"/><rect x="25.5" y="438.5" width="4" height="22.9"/><rect x="29.5" y="438.5" width="4" height="22.9"/><rect x="33.5" y="435.5" width="4" height="25.9"/><rect x="37.5" y="435.5" width="5" height="25.9"/><rect x="42.5" y="434.5" width="4" height="26.9"/><rect x="46.5" y="435.5" width="4" height="25.9"/><rect x="50.5" y="437.5" width="4" height="23.9"/><rect x="54.5" y="439.5" width="5" height="21.9"/><rect x="59.5" y="441.5" width="4" height="19.9"/><rect x="63.5" y="446.5" width="4" height="14.9"/><rect x="67.5" y="449.5" width="4" height="11.9"/><rect x="71.5" y="451.5" width="5" height="9.9"/><rect x="76.5" y="454.5" width="4" height="6.9"/><rect x="80.5" y="456.5" width="4" height="4.9"/><rect x="84.5" y="457.5" width="4" height="3.9"/><rect x="88.5" y="458.5" width="5" height="2.9"/><rect x="93.5" y="458.5" width="4" height="2.9"/><rect x="97.5" y="459.5" width="4" height="1.9"/><rect x="101.5" y="460.5" width="4" height="0.9"/><rect x="105.5" y="460.5" width="5" height="0.9"/></g>
<g stroke="#333" stroke-width="0.75" fill="none"><path d="M16.4 388.5H28.5M58.5 388.5H102.6"/><rect x="28.5" y="376.5" width="30" height="24" fill="#fff"/></g>
<path d="M43.5 376.5V400.5" stroke="#000" stroke-width="1.0"/>
<rect x="102.6" y="363.6" width="60.4" height="97.8" fill="#e7fd0f" fill-opacity="0.5"/>
<g stroke="#000" stroke-opacity="0.7" stroke-width="0.85" fill="none"><path d="M101.75 388.5h2.5M103 387.25v2.5"/><path d="M102.35 388.5h2.5M103.6 387.25v2.5"/><path d="M102.95 388.5h2.5M104.2 387.25v2.5"/><path d="M103.55 388.5h2.5M104.8 387.25v2.5"/><path d="M104.15 388.5h2.5M105.4 387.25v2.5"/><path d="M104.75 388.5h2.5M106 387.25v2.5"/><path d="M105.35 388.5h2.5M106.6 387.25v2.5"/><path d="M105.95 388.5h2.5M107.2 387.25v2.5"/><path d="M106.55 388.5h2.5M107.8 387.25v2.5"/><path d="M107.15 388.5h2.5M108.4 387.25v2.5"/><path d="M107.75 388.5h2.5M109 387.25v2.5"/><path d="M108.35 388.5h2.5M109.6 387.25v2.5"/><path d="M108.95 388.5h2.5M110.2 387.25v2.5"/><path d="M109.55 388.5h2.5M110.8 387.25v2.5"/><path d="M110.15 388.5h2.5M111.4 387.25v2.5"/><path d="M111.25 388.5h2.5M112.5 387.25v2.5"/><path d="M112.55 388.5h2.5M113.8 387.25v2.5"/><path d="M113.85 388.5h2.5M115.1 387.25v2.5"/><path d="M115.15 388.5h2.5M116.4 387.25v2.5"/><path d="M116.45 388.5h2.5M117.7 387.25v2.5"/><path d="M117.75 388.5h2.5M119 387.25v2.5"/><path d="M120.15 388.5h2.5M121.4 387.25v2.5"/><path d="M123.35 388.5h2.5M124.6 387.25v2.5"/><path d="M130.75 388.5h2.5M132 387.25v2.5"/><path d="M134.35 388.5h2.5M135.6 387.25v2.5"/><path d="M135.75 388.5h2.5M137 387.25v2.5"/><path d="M137.05 388.5h2.5M138.3 387.25v2.5"/><path d="M138.35 388.5h2.5M139.6 387.25v2.5"/><path d="M143 388.5h2.5M144.25 387.25v2.5"/></g>
<rect x="99.05" y="412.4" width="1.9" height="49" fill="#f0201a"/>
<rect x="16.4" y="363.6" width="146.6" height="97.8" fill="none" stroke="#707070" stroke-width="1.0"/>
<path d="M16.4 461.4v-1.2M39.16 461.4v-1.2M61.92 461.4v-1.2M84.68 461.4v-1.2M107.44 461.4v-1.2M130.2 461.4v-1.2M152.96 461.4v-1.2M16.4 461.4h1.2M16.4 455.3h1.2M16.4 449.2h1.2M16.4 443.1h1.2M16.4 437h1.2M16.4 430.9h1.2M16.4 424.8h1.2M16.4 418.7h1.2M16.4 412.6h1.2" stroke="#555" stroke-width="0.5"/>
<g font-size="4.5" text-anchor="middle" fill="#3a3a3a"><text x="16.4" y="466.9" textLength="2.74" lengthAdjust="spacingAndGlyphs">0</text><text x="39.16" y="466.9" textLength="2.74" lengthAdjust="spacingAndGlyphs">2</text><text x="61.92" y="466.9" textLength="2.74" lengthAdjust="spacingAndGlyphs">4</text><text x="84.68" y="466.9" textLength="2.74" lengthAdjust="spacingAndGlyphs">6</text><text x="107.44" y="466.9" textLength="2.74" lengthAdjust="spacingAndGlyphs">8</text><text x="130.2" y="466.9" textLength="5.47" lengthAdjust="spacingAndGlyphs">10</text><text x="152.96" y="466.9" textLength="5.47" lengthAdjust="spacingAndGlyphs">12</text></g>
<g font-size="4.5" text-anchor="end" fill="#3a3a3a"><text x="14.8" y="462.9" textLength="2.74" lengthAdjust="spacingAndGlyphs">0</text><text x="14.8" y="456.8" textLength="8.21" lengthAdjust="spacingAndGlyphs">200</text><text x="14.8" y="450.7" textLength="8.21" lengthAdjust="spacingAndGlyphs">400</text><text x="14.8" y="444.6" textLength="8.21" lengthAdjust="spacingAndGlyphs">600</text><text x="14.8" y="438.5" textLength="8.21" lengthAdjust="spacingAndGlyphs">800</text><text x="14.8" y="432.4" textLength="10.94" lengthAdjust="spacingAndGlyphs">1000</text><text x="14.8" y="426.3" textLength="10.94" lengthAdjust="spacingAndGlyphs">1200</text><text x="14.8" y="420.2" textLength="10.94" lengthAdjust="spacingAndGlyphs">1400</text><text x="14.8" y="414.1" textLength="10.94" lengthAdjust="spacingAndGlyphs">1600</text></g>
<g font-size="4.8" letter-spacing="0" text-anchor="middle" fill="#111"><text x="89.7" y="357.3" textLength="84.04" lengthAdjust="spacing">PDGFRA expression in TH34_1352_S01</text><text x="89.7" y="361.8" textLength="93.47" lengthAdjust="spacing">Background cohort: Pan-Cancer (n=11456)</text></g>
<g fill="#cfcfcf" stroke="#333" stroke-width="0.58"><rect x="30.5" y="590.5" width="3" height="0.9"/><rect x="33.5" y="590.5" width="2" height="0.9"/><rect x="35.5" y="587.5" width="2" height="3.9"/><rect x="40.5" y="590.5" width="2" height="0.9"/><rect x="42.5" y="589.5" width="2" height="1.9"/><rect x="44.5" y="584.5" width="3" height="6.9"/><rect x="47.5" y="580.5" width="2" height="10.9"/><rect x="49.5" y="583.5" width="2" height="7.9"/><rect x="51.5" y="581.5" width="3" height="9.9"/><rect x="54.5" y="580.5" width="2" height="10.9"/><rect x="56.5" y="576.5" width="2" height="14.9"/><rect x="58.5" y="572.5" width="2" height="18.9"/><rect x="60.5" y="573.5" width="3" height="17.9"/><rect x="63.5" y="575.5" width="2" height="15.9"/><rect x="65.5" y="572.5" width="2" height="18.9"/><rect x="67.5" y="564.5" width="3" height="26.9"/><rect x="70.5" y="553.5" width="2" height="37.9"/><rect x="72.5" y="542.5" width="2" height="48.9"/><rect x="74.5" y="571.5" width="2" height="19.9"/><rect x="76.5" y="568.5" width="3" height="22.9"/><rect x="79.5" y="573.5" width="2" height="17.9"/><rect x="81.5" y="579.5" width="2" height="11.9"/><rect x="83.5" y="581.5" width="3" height="9.9"/><rect x="86.5" y="583.5" width="2" height="7.9"/><rect x="88.5" y="586.5" width="2" height="4.9"/><rect x="90.5" y="586.5" width="3" height="4.9"/><rect x="93.5" y="589.5" width="2" height="1.9"/><rect x="95.5" y="590.5" width="2" height="0.9"/></g>
<g stroke="#333" stroke-width="0.75" fill="none"><path d="M42 518.5H61.5M76.5 518.5H96"/><rect x="61.5" y="506.5" width="15" height="25" fill="#fff"/></g>
<path d="M71.5 506.5V531.5" stroke="#000" stroke-width="1.0"/>
<rect x="98.6" y="494" width="64.4" height="97.4" fill="#e7fd0f" fill-opacity="0.5"/>
<g stroke="#000" stroke-opacity="0.7" stroke-width="0.85" fill="none"><path d="M29.75 518.5h2.5M31 517.25v2.5"/><path d="M34.75 518.5h2.5M36 517.25v2.5"/><path d="M35.75 518.5h2.5M37 517.25v2.5"/><path d="M36.75 518.5h2.5M38 517.25v2.5"/><path d="M98.75 518.5h2.5M100 517.25v2.5"/></g>
<rect x="98.95" y="542.8" width="1.9" height="48.6" fill="#f0201a"/>
<rect x="16.4" y="494" width="146.6" height="97.4" fill="none" stroke="#707070" stroke-width="1.0"/>
<path d="M16.4 591.4v-1.2M39.16 591.4v-1.2M61.92 591.4v-1.2M84.68 591.4v-1.2M107.44 591.4v-1.2M130.2 591.4v-1.2M152.96 591.4v-1.2M16.4 591.4h1.2M16.4 586.02h1.2M16.4 580.64h1.2M16.4 575.27h1.2M16.4 569.89h1.2M16.4 564.51h1.2M16.4 559.13h1.2M16.4 553.76h1.2M16.4 548.38h1.2M16.4 543h1.2" stroke="#555" stroke-width="0.5"/>
<g font-size="4.5" text-anchor="middle" fill="#3a3a3a"><text x="16.4" y="596.9" textLength="2.74" lengthAdjust="spacingAndGlyphs">0</text><text x="39.16" y="596.9" textLength="2.74" lengthAdjust="spacingAndGlyphs">2</text><text x="61.92" y="596.9" textLength="2.74" lengthAdjust="spacingAndGlyphs">4</text><text x="84.68" y="596.9" textLength="2.74" lengthAdjust="spacingAndGlyphs">6</text><text x="107.44" y="596.9" textLength="2.74" lengthAdjust="spacingAndGlyphs">8</text><text x="130.2" y="596.9" textLength="5.47" lengthAdjust="spacingAndGlyphs">10</text><text x="152.96" y="596.9" textLength="5.47" lengthAdjust="spacingAndGlyphs">12</text></g>
<g font-size="4.5" text-anchor="end" fill="#3a3a3a"><text x="14.8" y="592.9" textLength="2.74" lengthAdjust="spacingAndGlyphs">0</text><text x="14.8" y="587.52" textLength="2.74" lengthAdjust="spacingAndGlyphs">5</text><text x="14.8" y="582.14" textLength="5.47" lengthAdjust="spacingAndGlyphs">10</text><text x="14.8" y="576.77" textLength="5.47" lengthAdjust="spacingAndGlyphs">15</text><text x="14.8" y="571.39" textLength="5.47" lengthAdjust="spacingAndGlyphs">20</text><text x="14.8" y="566.01" textLength="5.47" lengthAdjust="spacingAndGlyphs">25</text><text x="14.8" y="560.63" textLength="5.47" lengthAdjust="spacingAndGlyphs">30</text><text x="14.8" y="555.26" textLength="5.47" lengthAdjust="spacingAndGlyphs">35</text><text x="14.8" y="549.88" textLength="5.47" lengthAdjust="spacingAndGlyphs">40</text><text x="14.8" y="544.5" textLength="5.47" lengthAdjust="spacingAndGlyphs">45</text></g>
<g font-size="4.8" letter-spacing="0" text-anchor="middle" fill="#111"><text x="89.7" y="487.7" textLength="84.04" lengthAdjust="spacing">PDGFRA expression in TH34_1352_S01</text><text x="89.7" y="492.2" textLength="127.49" lengthAdjust="spacing">Background cohort: First and Second-Degree MCS (n=339)</text></g>
<g fill="#cfcfcf" stroke="#333" stroke-width="0.7"><rect x="238.5" y="460.5" width="4" height="0.9"/><rect x="242.5" y="460.5" width="4" height="0.9"/><rect x="246.5" y="460.5" width="4" height="0.9"/><rect x="250.5" y="460.5" width="5" height="0.9"/><rect x="255.5" y="460.5" width="4" height="0.9"/><rect x="259.5" y="459.5" width="4" height="1.9"/><rect x="263.5" y="459.5" width="4" height="1.9"/><rect x="267.5" y="458.5" width="5" height="2.9"/><rect x="272.5" y="456.5" width="4" height="4.9"/><rect x="276.5" y="453.5" width="4" height="7.9"/><rect x="280.5" y="448.5" width="4" height="12.9"/><rect x="284.5" y="439.5" width="4" height="21.9"/><rect x="288.5" y="427.5" width="4" height="33.9"/><rect x="292.5" y="417.5" width="5" height="43.9"/><rect x="297.5" y="415.5" width="4" height="45.9"/><rect x="301.5" y="421.5" width="4" height="39.9"/><rect x="305.5" y="437.5" width="4" height="23.9"/><rect x="309.5" y="446.5" width="5" height="14.9"/><rect x="314.5" y="452.5" width="4" height="8.9"/><rect x="318.5" y="456.5" width="4" height="4.9"/><rect x="322.5" y="459.5" width="4" height="1.9"/><rect x="326.5" y="460.5" width="4" height="0.9"/><rect x="330.5" y="460.5" width="4" height="0.9"/></g>
<g stroke="#333" stroke-width="0.75" fill="none"><path d="M269.6 388.5H290.5M304.5 388.5H324.6"/><rect x="290.5" y="376.5" width="14" height="24" fill="#fff"/></g>
<path d="M297.5 376.5V400.5" stroke="#000" stroke-width="1.0"/>
<rect x="324.8" y="363.6" width="48.2" height="97.8" fill="#e7fd0f" fill-opacity="0.5"/>
<g stroke="#000" stroke-opacity="0.7" stroke-width="0.85" fill="none"><path d="M236.25 388.5h2.5M237.5 387.25v2.5"/><path d="M237.65 388.5h2.5M238.9 387.25v2.5"/><path d="M239.05 388.5h2.5M240.3 387.25v2.5"/><path d="M240.45 388.5h2.5M241.7 387.25v2.5"/><path d="M241.85 388.5h2.5M243.1 387.25v2.5"/><path d="M243.25 388.5h2.5M244.5 387.25v2.5"/><path d="M244.65 388.5h2.5M245.9 387.25v2.5"/><path d="M246.05 388.5h2.5M247.3 387.25v2.5"/><path d="M247.45 388.5h2.5M248.7 387.25v2.5"/><path d="M248.85 388.5h2.5M250.1 387.25v2.5"/><path d="M250.25 388.5h2.5M251.5 387.25v2.5"/><path d="M251.65 388.5h2.5M252.9 387.25v2.5"/><path d="M253.05 388.5h2.5M254.3 387.25v2.5"/><path d="M254.45 388.5h2.5M255.7 387.25v2.5"/><path d="M255.85 388.5h2.5M257.1 387.25v2.5"/><path d="M256.75 388.5h2.5M258 387.25v2.5"/><path d="M257.25 388.5h2.5M258.5 387.25v2.5"/><path d="M257.75 388.5h2.5M259 387.25v2.5"/><path d="M258.25 388.5h2.5M259.5 387.25v2.5"/><path d="M258.75 388.5h2.5M260 387.25v2.5"/><path d="M259.25 388.5h2.5M260.5 387.25v2.5"/><path d="M259.75 388.5h2.5M261 387.25v2.5"/><path d="M260.25 388.5h2.5M261.5 387.25v2.5"/><path d="M260.75 388.5h2.5M262 387.25v2.5"/><path d="M261.25 388.5h2.5M262.5 387.25v2.5"/><path d="M261.75 388.5h2.5M263 387.25v2.5"/><path d="M262.25 388.5h2.5M263.5 387.25v2.5"/><path d="M262.75 388.5h2.5M264 387.25v2.5"/><path d="M263.25 388.5h2.5M264.5 387.25v2.5"/><path d="M263.75 388.5h2.5M265 387.25v2.5"/><path d="M264.25 388.5h2.5M265.5 387.25v2.5"/><path d="M264.75 388.5h2.5M266 387.25v2.5"/><path d="M265.25 388.5h2.5M266.5 387.25v2.5"/><path d="M265.75 388.5h2.5M267 387.25v2.5"/><path d="M266.25 388.5h2.5M267.5 387.25v2.5"/><path d="M266.75 388.5h2.5M268 387.25v2.5"/><path d="M267.25 388.5h2.5M268.5 387.25v2.5"/><path d="M267.75 388.5h2.5M269 387.25v2.5"/><path d="M268.25 388.5h2.5M269.5 387.25v2.5"/><path d="M323.75 388.5h2.5M325 387.25v2.5"/><path d="M324.35 388.5h2.5M325.6 387.25v2.5"/><path d="M324.95 388.5h2.5M326.2 387.25v2.5"/><path d="M325.55 388.5h2.5M326.8 387.25v2.5"/><path d="M326.15 388.5h2.5M327.4 387.25v2.5"/><path d="M326.75 388.5h2.5M328 387.25v2.5"/><path d="M327.35 388.5h2.5M328.6 387.25v2.5"/><path d="M327.95 388.5h2.5M329.2 387.25v2.5"/><path d="M328.55 388.5h2.5M329.8 387.25v2.5"/><path d="M329.15 388.5h2.5M330.4 387.25v2.5"/><path d="M329.75 388.5h2.5M331 387.25v2.5"/><path d="M330.35 388.5h2.5M331.6 387.25v2.5"/><path d="M330.95 388.5h2.5M332.2 387.25v2.5"/><path d="M331.55 388.5h2.5M332.8 387.25v2.5"/><path d="M332.15 388.5h2.5M333.4 387.25v2.5"/><path d="M332.75 388.5h2.5M334 387.25v2.5"/><path d="M333.35 388.5h2.5M334.6 387.25v2.5"/><path d="M333.95 388.5h2.5M335.2 387.25v2.5"/><path d="M334.55 388.5h2.5M335.8 387.25v2.5"/><path d="M335.15 388.5h2.5M336.4 387.25v2.5"/><path d="M335.75 388.5h2.5M337 387.25v2.5"/><path d="M336.35 388.5h2.5M337.6 387.25v2.5"/><path d="M336.95 388.5h2.5M338.2 387.25v2.5"/><path d="M337.55 388.5h2.5M338.8 387.25v2.5"/><path d="M339.75 388.5h2.5M341 387.25v2.5"/><path d="M341.25 388.5h2.5M342.5 387.25v2.5"/><path d="M342.75 388.5h2.5M344 387.25v2.5"/><path d="M344.25 388.5h2.5M345.5 387.25v2.5"/><path d="M345.75 388.5h2.5M347 387.25v2.5"/><path d="M347.75 388.5h2.5M349 387.25v2.5"/><path d="M350.75 388.5h2.5M352 387.25v2.5"/><path d="M359.35 388.5h2.5M360.6 387.25v2.5"/><path d="M363.75 388.5h2.5M365 387.25v2.5"/></g>
<rect x="318.05" y="412.6" width="1.9" height="48.8" fill="#f0201a"/>
<rect x="227.2" y="363.6" width="145.8" height="97.8" fill="none" stroke="#707070" stroke-width="1.0"/>
<path d="M227.4 461.4v-1.2M243.6 461.4v-1.2M259.8 461.4v-1.2M276 461.4v-1.2M292.2 461.4v-1.2M308.4 461.4v-1.2M324.6 461.4v-1.2M340.8 461.4v-1.2M357 461.4v-1.2M373.2 461.4v-1.2M227.2 461.4h1.2M227.2 449.2h1.2M227.2 437h1.2M227.2 424.8h1.2M227.2 412.6h1.2" stroke="#555" stroke-width="0.5"/>
<g font-size="4.5" text-anchor="middle" fill="#3a3a3a"><text x="227.4" y="466.9" textLength="2.74" lengthAdjust="spacingAndGlyphs">0</text><text x="243.6" y="466.9" textLength="2.74" lengthAdjust="spacingAndGlyphs">1</text><text x="259.8" y="466.9" textLength="2.74" lengthAdjust="spacingAndGlyphs">2</text><text x="276" y="466.9" textLength="2.74" lengthAdjust="spacingAndGlyphs">3</text><text x="292.2" y="466.9" textLength="2.74" lengthAdjust="spacingAndGlyphs">4</text><text x="308.4" y="466.9" textLength="2.74" lengthAdjust="spacingAndGlyphs">5</text><text x="324.6" y="466.9" textLength="2.74" lengthAdjust="spacingAndGlyphs">6</text><text x="340.8" y="466.9" textLength="2.74" lengthAdjust="spacingAndGlyphs">7</text><text x="357" y="466.9" textLength="2.74" lengthAdjust="spacingAndGlyphs">8</text><text x="373.2" y="466.9" textLength="2.74" lengthAdjust="spacingAndGlyphs">9</text></g>
<g font-size="4.5" text-anchor="end" fill="#3a3a3a"><text x="225.6" y="462.9" textLength="2.74" lengthAdjust="spacingAndGlyphs">0</text><text x="225.6" y="450.7" textLength="8.21" lengthAdjust="spacingAndGlyphs">500</text><text x="225.6" y="438.5" textLength="10.94" lengthAdjust="spacingAndGlyphs">1000</text><text x="225.6" y="426.3" textLength="10.94" lengthAdjust="spacingAndGlyphs">1500</text><text x="225.6" y="414.1" textLength="10.94" lengthAdjust="spacingAndGlyphs">2000</text></g>
<g font-size="4.8" letter-spacing="0" text-anchor="middle" fill="#111"><text x="300.1" y="357.3" textLength="77.2" lengthAdjust="spacing">ELK1 expression in TH34_1352_S01</text><text x="300.1" y="361.8" textLength="93.47" lengthAdjust="spacing">Background cohort: Pan-Cancer (n=11456)</text></g>
<g fill="#cfcfcf" stroke="#333" stroke-width="0.58"><rect x="271.5" y="590.5" width="2" height="0.9"/><rect x="273.5" y="586.5" width="2" height="4.9"/><rect x="275.5" y="584.5" width="2" height="6.9"/><rect x="277.5" y="577.5" width="2" height="13.9"/><rect x="279.5" y="572.5" width="2" height="18.9"/><rect x="281.5" y="566.5" width="2" height="24.9"/><rect x="283.5" y="560.5" width="2" height="30.9"/><rect x="285.5" y="549.5" width="2" height="41.9"/><rect x="287.5" y="551.5" width="2" height="39.9"/><rect x="289.5" y="547.5" width="2" height="43.9"/><rect x="291.5" y="549.5" width="2" height="41.9"/><rect x="293.5" y="562.5" width="2" height="28.9"/><rect x="295.5" y="566.5" width="2" height="24.9"/><rect x="297.5" y="576.5" width="2" height="14.9"/><rect x="299.5" y="579.5" width="2" height="11.9"/><rect x="301.5" y="582.5" width="2" height="8.9"/><rect x="303.5" y="577.5" width="2" height="13.9"/><rect x="305.5" y="585.5" width="2" height="5.9"/><rect x="307.5" y="589.5" width="2" height="1.9"/><rect x="309.5" y="589.5" width="2" height="1.9"/><rect x="311.5" y="589.5" width="2" height="1.9"/><rect x="313.5" y="586.5" width="2" height="4.9"/><rect x="315.5" y="589.5" width="2" height="1.9"/><rect x="317.5" y="589.5" width="3" height="1.9"/><rect x="320.5" y="589.5" width="2" height="1.9"/><rect x="322.5" y="588.5" width="2" height="2.9"/><rect x="324.5" y="588.5" width="2" height="2.9"/><rect x="328.5" y="590.5" width="2" height="0.9"/><rect x="330.5" y="590.5" width="2" height="0.9"/><rect x="332.5" y="590.5" width="2" height="0.9"/><rect x="334.5" y="590.5" width="2" height="0.9"/></g>
<g stroke="#333" stroke-width="0.75" fill="none"><path d="M271 518.5H285.5M296.5 518.5H312.4"/><rect x="285.5" y="506.5" width="11" height="24" fill="#fff"/></g>
<path d="M290.5 506.5V530.5" stroke="#000" stroke-width="1.0"/>
<rect x="312.4" y="494" width="62" height="97.4" fill="#e7fd0f" fill-opacity="0.5"/>
<g stroke="#000" stroke-opacity="0.7" stroke-width="0.85" fill="none"><path d="M312.15 518.5h2.5M313.4 517.25v2.5"/><path d="M313.75 518.5h2.5M315 517.25v2.5"/><path d="M315.75 518.5h2.5M317 517.25v2.5"/><path d="M317.35 518.5h2.5M318.6 517.25v2.5"/><path d="M319.35 518.5h2.5M320.6 517.25v2.5"/><path d="M321.75 518.5h2.5M323 517.25v2.5"/><path d="M324.15 518.5h2.5M325.4 517.25v2.5"/><path d="M326.75 518.5h2.5M328 517.25v2.5"/><path d="M329.35 518.5h2.5M330.6 517.25v2.5"/><path d="M331.75 518.5h2.5M333 517.25v2.5"/></g>
<rect x="336.25" y="543" width="1.9" height="48.4" fill="#f0201a"/>
<rect x="228.4" y="494" width="146" height="97.4" fill="none" stroke="#707070" stroke-width="1.0"/>
<path d="M228.4 591.4v-1.2M249.56 591.4v-1.2M270.72 591.4v-1.2M291.88 591.4v-1.2M313.04 591.4v-1.2M334.2 591.4v-1.2M355.36 591.4v-1.2M228.4 591.4h1.2M228.4 585.35h1.2M228.4 579.3h1.2M228.4 573.25h1.2M228.4 567.2h1.2M228.4 561.15h1.2M228.4 555.1h1.2M228.4 549.05h1.2M228.4 543h1.2" stroke="#555" stroke-width="0.5"/>
<g font-size="4.5" text-anchor="middle" fill="#3a3a3a"><text x="228.4" y="596.9" textLength="2.74" lengthAdjust="spacingAndGlyphs">0</text><text x="249.56" y="596.9" textLength="2.74" lengthAdjust="spacingAndGlyphs">2</text><text x="270.72" y="596.9" textLength="2.74" lengthAdjust="spacingAndGlyphs">4</text><text x="291.88" y="596.9" textLength="2.74" lengthAdjust="spacingAndGlyphs">6</text><text x="313.04" y="596.9" textLength="2.74" lengthAdjust="spacingAndGlyphs">8</text><text x="334.2" y="596.9" textLength="5.47" lengthAdjust="spacingAndGlyphs">10</text><text x="355.36" y="596.9" textLength="5.47" lengthAdjust="spacingAndGlyphs">12</text></g>
<g font-size="4.5" text-anchor="end" fill="#3a3a3a"><text x="226.8" y="592.9" textLength="2.74" lengthAdjust="spacingAndGlyphs">0</text><text x="226.8" y="586.85" textLength="2.74" lengthAdjust="spacingAndGlyphs">5</text><text x="226.8" y="580.8" textLength="5.47" lengthAdjust="spacingAndGlyphs">10</text><text x="226.8" y="574.75" textLength="5.47" lengthAdjust="spacingAndGlyphs">15</text><text x="226.8" y="568.7" textLength="5.47" lengthAdjust="spacingAndGlyphs">20</text><text x="226.8" y="562.65" textLength="5.47" lengthAdjust="spacingAndGlyphs">25</text><text x="226.8" y="556.6" textLength="5.47" lengthAdjust="spacingAndGlyphs">30</text><text x="226.8" y="550.55" textLength="5.47" lengthAdjust="spacingAndGlyphs">35</text><text x="226.8" y="544.5" textLength="5.47" lengthAdjust="spacingAndGlyphs">40</text></g>
<g font-size="4.8" letter-spacing="0" text-anchor="middle" fill="#111"><text x="301.4" y="487.7" textLength="80.55" lengthAdjust="spacing">FGFR1 expression in TH34_1352_S01</text><text x="301.4" y="492.2" textLength="127.49" lengthAdjust="spacing">Background cohort: First and Second-Degree MCS (n=339)</text></g>
<g fill="#cfcfcf" stroke="#333" stroke-width="0.7"><path d="M469.6 461h4.16"/><rect x="473.5" y="460.5" width="4" height="0.8"/><rect x="477.5" y="460.5" width="5" height="0.8"/><rect x="482.5" y="460.5" width="4" height="0.8"/><rect x="486.5" y="460.5" width="4" height="0.8"/><rect x="490.5" y="460.5" width="4" height="0.8"/><rect x="494.5" y="459.5" width="4" height="1.8"/><rect x="498.5" y="459.5" width="4" height="1.8"/><rect x="502.5" y="458.5" width="5" height="2.8"/><rect x="507.5" y="454.5" width="4" height="6.8"/><rect x="511.5" y="444.5" width="4" height="16.8"/><rect x="515.5" y="430.5" width="4" height="30.8"/><rect x="519.5" y="416.5" width="4" height="44.8"/><rect x="523.5" y="414.5" width="4" height="46.8"/><rect x="527.5" y="427.5" width="5" height="33.8"/><rect x="532.5" y="444.5" width="4" height="16.8"/><rect x="536.5" y="453.5" width="4" height="7.8"/><rect x="540.5" y="457.5" width="4" height="3.8"/><rect x="544.5" y="460.5" width="4" height="0.8"/><rect x="548.5" y="460.5" width="4" height="0.8"/></g>
<g stroke="#333" stroke-width="0.75" fill="none"><path d="M503 388.5H518.5M529.5 388.5H544.6"/><rect x="518.5" y="376.5" width="11" height="24" fill="#fff"/></g>
<path d="M524.5 376.5V400.5" stroke="#000" stroke-width="1.0"/>
<rect x="544.8" y="363.6" width="42.1" height="97.7" fill="#e7fd0f" fill-opacity="0.5"/>
<g stroke="#000" stroke-opacity="0.7" stroke-width="0.85" fill="none"><path d="M447.45 388.5h2.5M448.7 387.25v2.5"/><path d="M451.75 388.5h2.5M453 387.25v2.5"/><path d="M454.05 388.5h2.5M455.3 387.25v2.5"/><path d="M456.35 388.5h2.5M457.6 387.25v2.5"/><path d="M458.75 388.5h2.5M460 387.25v2.5"/><path d="M459.25 388.5h2.5M460.5 387.25v2.5"/><path d="M459.75 388.5h2.5M461 387.25v2.5"/><path d="M461.95 388.5h2.5M463.2 387.25v2.5"/><path d="M462.45 388.5h2.5M463.7 387.25v2.5"/><path d="M462.95 388.5h2.5M464.2 387.25v2.5"/><path d="M465.15 388.5h2.5M466.4 387.25v2.5"/><path d="M465.65 388.5h2.5M466.9 387.25v2.5"/><path d="M466.15 388.5h2.5M467.4 387.25v2.5"/><path d="M468.35 388.5h2.5M469.6 387.25v2.5"/><path d="M468.85 388.5h2.5M470.1 387.25v2.5"/><path d="M469.35 388.5h2.5M470.6 387.25v2.5"/><path d="M471.55 388.5h2.5M472.8 387.25v2.5"/><path d="M472.05 388.5h2.5M473.3 387.25v2.5"/><path d="M472.55 388.5h2.5M473.8 387.25v2.5"/><path d="M474.75 388.5h2.5M476 387.25v2.5"/><path d="M475.25 388.5h2.5M476.5 387.25v2.5"/><path d="M475.75 388.5h2.5M477 387.25v2.5"/><path d="M477.95 388.5h2.5M479.2 387.25v2.5"/><path d="M478.45 388.5h2.5M479.7 387.25v2.5"/><path d="M478.95 388.5h2.5M480.2 387.25v2.5"/><path d="M481.15 388.5h2.5M482.4 387.25v2.5"/><path d="M481.65 388.5h2.5M482.9 387.25v2.5"/><path d="M482.15 388.5h2.5M483.4 387.25v2.5"/><path d="M484.35 388.5h2.5M485.6 387.25v2.5"/><path d="M484.85 388.5h2.5M486.1 387.25v2.5"/><path d="M485.35 388.5h2.5M486.6 387.25v2.5"/><path d="M487.55 388.5h2.5M488.8 387.25v2.5"/><path d="M488.05 388.5h2.5M489.3 387.25v2.5"/><path d="M488.55 388.5h2.5M489.8 387.25v2.5"/><path d="M489.25 388.5h2.5M490.5 387.25v2.5"/><path d="M489.85 388.5h2.5M491.1 387.25v2.5"/><path d="M490.45 388.5h2.5M491.7 387.25v2.5"/><path d="M491.05 388.5h2.5M492.3 387.25v2.5"/><path d="M491.65 388.5h2.5M492.9 387.25v2.5"/><path d="M492.25 388.5h2.5M493.5 387.25v2.5"/><path d="M492.85 388.5h2.5M494.1 387.25v2.5"/><path d="M493.45 388.5h2.5M494.7 387.25v2.5"/><path d="M494.05 388.5h2.5M495.3 387.25v2.5"/><path d="M494.65 388.5h2.5M495.9 387.25v2.5"/><path d="M495.25 388.5h2.5M496.5 387.25v2.5"/><path d="M495.85 388.5h2.5M497.1 387.25v2.5"/><path d="M496.45 388.5h2.5M497.7 387.25v2.5"/><path d="M497.05 388.5h2.5M498.3 387.25v2.5"/><path d="M497.65 388.5h2.5M498.9 387.25v2.5"/><path d="M498.25 388.5h2.5M499.5 387.25v2.5"/><path d="M498.85 388.5h2.5M500.1 387.25v2.5"/><path d="M499.45 388.5h2.5M500.7 387.25v2.5"/><path d="M500.05 388.5h2.5M501.3 387.25v2.5"/><path d="M500.65 388.5h2.5M501.9 387.25v2.5"/><path d="M501.25 388.5h2.5M502.5 387.25v2.5"/><path d="M543.75 388.5h2.5M545 387.25v2.5"/><path d="M544.35 388.5h2.5M545.6 387.25v2.5"/><path d="M544.95 388.5h2.5M546.2 387.25v2.5"/><path d="M545.55 388.5h2.5M546.8 387.25v2.5"/><path d="M546.15 388.5h2.5M547.4 387.25v2.5"/><path d="M546.75 388.5h2.5M548 387.25v2.5"/><path d="M547.35 388.5h2.5M548.6 387.25v2.5"/><path d="M547.95 388.5h2.5M549.2 387.25v2.5"/><path d="M548.55 388.5h2.5M549.8 387.25v2.5"/><path d="M549.15 388.5h2.5M550.4 387.25v2.5"/><path d="M549.75 388.5h2.5M551 387.25v2.5"/><path d="M550.35 388.5h2.5M551.6 387.25v2.5"/><path d="M550.95 388.5h2.5M552.2 387.25v2.5"/><path d="M551.55 388.5h2.5M552.8 387.25v2.5"/><path d="M552.15 388.5h2.5M553.4 387.25v2.5"/><path d="M552.75 388.5h2.5M554 387.25v2.5"/><path d="M553.35 388.5h2.5M554.6 387.25v2.5"/><path d="M553.95 388.5h2.5M555.2 387.25v2.5"/><path d="M554.55 388.5h2.5M555.8 387.25v2.5"/><path d="M555.15 388.5h2.5M556.4 387.25v2.5"/><path d="M555.75 388.5h2.5M557 387.25v2.5"/><path d="M558.25 388.5h2.5M559.5 387.25v2.5"/><path d="M560.75 388.5h2.5M562 387.25v2.5"/><path d="M562.75 388.5h2.5M564 387.25v2.5"/><path d="M573.05 388.5h2.5M574.3 387.25v2.5"/></g>
<rect x="524.45" y="412.6" width="1.9" height="48.7" fill="#f0201a"/>
<rect x="440.4" y="363.6" width="146.5" height="97.7" fill="none" stroke="#707070" stroke-width="1.0"/>
<path d="M455.05 461.3v-1.2M484.35 461.3v-1.2M513.65 461.3v-1.2M542.95 461.3v-1.2M572.25 461.3v-1.2M440.4 461.3h1.2M440.4 451.56h1.2M440.4 441.82h1.2M440.4 432.08h1.2M440.4 422.34h1.2M440.4 412.6h1.2" stroke="#555" stroke-width="0.5"/>
<g font-size="4.5" text-anchor="middle" fill="#3a3a3a"><text x="455.05" y="466.8" textLength="2.74" lengthAdjust="spacingAndGlyphs">2</text><text x="484.35" y="466.8" textLength="2.74" lengthAdjust="spacingAndGlyphs">4</text><text x="513.65" y="466.8" textLength="2.74" lengthAdjust="spacingAndGlyphs">6</text><text x="542.95" y="466.8" textLength="2.74" lengthAdjust="spacingAndGlyphs">8</text><text x="572.25" y="466.8" textLength="5.47" lengthAdjust="spacingAndGlyphs">10</text></g>
<g font-size="4.5" text-anchor="end" fill="#3a3a3a"><text x="438.8" y="462.8" textLength="2.74" lengthAdjust="spacingAndGlyphs">0</text><text x="438.8" y="453.06" textLength="8.21" lengthAdjust="spacingAndGlyphs">500</text><text x="438.8" y="443.32" textLength="10.94" lengthAdjust="spacingAndGlyphs">1000</text><text x="438.8" y="433.58" textLength="10.94" lengthAdjust="spacingAndGlyphs">1500</text><text x="438.8" y="423.84" textLength="10.94" lengthAdjust="spacingAndGlyphs">2000</text><text x="438.8" y="414.1" textLength="10.94" lengthAdjust="spacingAndGlyphs">2500</text></g>
<g font-size="4.8" letter-spacing="0" text-anchor="middle" fill="#111"><text x="513.65" y="357.3" textLength="84.11" lengthAdjust="spacing">MAP2K2 expression in TH34_1352_S01</text><text x="513.65" y="361.8" textLength="93.47" lengthAdjust="spacing">Background cohort: Pan-Cancer (n=11456)</text></g>
<g fill="#cfcfcf" stroke="#333" stroke-width="0.55"><rect x="508.5" y="587.5" width="1" height="3.9"/><rect x="509.5" y="582.5" width="2" height="8.9"/><rect x="511.5" y="589.5" width="2" height="1.9"/><rect x="513.5" y="578.5" width="1" height="12.9"/><rect x="514.5" y="563.5" width="2" height="27.9"/><rect x="516.5" y="564.5" width="1" height="26.9"/><rect x="517.5" y="558.5" width="2" height="32.9"/><rect x="519.5" y="544.5" width="2" height="46.9"/><rect x="521.5" y="551.5" width="1" height="39.9"/><rect x="522.5" y="552.5" width="2" height="38.9"/><rect x="524.5" y="556.5" width="1" height="34.9"/><rect x="525.5" y="570.5" width="2" height="20.9"/><rect x="527.5" y="564.5" width="2" height="26.9"/><rect x="529.5" y="571.5" width="1" height="19.9"/><rect x="530.5" y="586.5" width="2" height="4.9"/><rect x="532.5" y="587.5" width="1" height="3.9"/><rect x="533.5" y="589.5" width="2" height="1.9"/><rect x="535.5" y="590.5" width="2" height="0.9"/><rect x="538.5" y="590.5" width="2" height="0.9"/><rect x="543.5" y="590.5" width="2" height="0.9"/><rect x="545.5" y="590.5" width="1" height="0.9"/><rect x="498.75" y="590.4" width="2.1" height="1"/><rect x="503.85" y="590.4" width="2.05" height="1"/></g>
<g stroke="#333" stroke-width="0.75" fill="none"><path d="M509 518.5H518.5M525.5 518.5H536"/><rect x="518.5" y="506.5" width="7" height="24" fill="#fff"/></g>
<path d="M521.5 506.5V530.5" stroke="#000" stroke-width="1.0"/>
<rect x="536" y="494" width="50.9" height="97.4" fill="#e7fd0f" fill-opacity="0.5"/>
<g stroke="#000" stroke-opacity="0.7" stroke-width="0.85" fill="none"><path d="M497.75 518.5h2.5M499 517.25v2.5"/><path d="M502.35 518.5h2.5M503.6 517.25v2.5"/><path d="M505.75 518.5h2.5M507 517.25v2.5"/><path d="M535.75 518.5h2.5M537 517.25v2.5"/><path d="M540.75 518.5h2.5M542 517.25v2.5"/><path d="M545.35 518.5h2.5M546.6 517.25v2.5"/></g>
<rect x="524.45" y="542.9" width="1.9" height="48.5" fill="#f0201a"/>
<rect x="440.4" y="494" width="146.5" height="97.4" fill="none" stroke="#707070" stroke-width="1.0"/>
<path d="M455.05 591.4v-1.2M484.35 591.4v-1.2M513.65 591.4v-1.2M542.95 591.4v-1.2M572.25 591.4v-1.2M440.4 591.4h1.2M440.4 586.02h1.2M440.4 580.64h1.2M440.4 575.27h1.2M440.4 569.89h1.2M440.4 564.51h1.2M440.4 559.13h1.2M440.4 553.76h1.2M440.4 548.38h1.2M440.4 543h1.2" stroke="#555" stroke-width="0.5"/>
<g font-size="4.5" text-anchor="middle" fill="#3a3a3a"><text x="455.05" y="596.9" textLength="2.74" lengthAdjust="spacingAndGlyphs">2</text><text x="484.35" y="596.9" textLength="2.74" lengthAdjust="spacingAndGlyphs">4</text><text x="513.65" y="596.9" textLength="2.74" lengthAdjust="spacingAndGlyphs">6</text><text x="542.95" y="596.9" textLength="2.74" lengthAdjust="spacingAndGlyphs">8</text><text x="572.25" y="596.9" textLength="5.47" lengthAdjust="spacingAndGlyphs">10</text></g>
<g font-size="4.5" text-anchor="end" fill="#3a3a3a"><text x="438.8" y="592.9" textLength="2.74" lengthAdjust="spacingAndGlyphs">0</text><text x="438.8" y="587.52" textLength="2.74" lengthAdjust="spacingAndGlyphs">5</text><text x="438.8" y="582.14" textLength="5.47" lengthAdjust="spacingAndGlyphs">10</text><text x="438.8" y="576.77" textLength="5.47" lengthAdjust="spacingAndGlyphs">15</text><text x="438.8" y="571.39" textLength="5.47" lengthAdjust="spacingAndGlyphs">20</text><text x="438.8" y="566.01" textLength="5.47" lengthAdjust="spacingAndGlyphs">25</text><text x="438.8" y="560.63" textLength="5.47" lengthAdjust="spacingAndGlyphs">30</text><text x="438.8" y="555.26" textLength="5.47" lengthAdjust="spacingAndGlyphs">35</text><text x="438.8" y="549.88" textLength="5.47" lengthAdjust="spacingAndGlyphs">40</text><text x="438.8" y="544.5" textLength="5.47" lengthAdjust="spacingAndGlyphs">45</text></g>
<g font-size="4.8" letter-spacing="0" text-anchor="middle" fill="#111"><text x="513.65" y="487.7" textLength="84.11" lengthAdjust="spacing">MAP2K2 expression in TH34_1352_S01</text><text x="513.65" y="492.2" textLength="127.49" lengthAdjust="spacing">Background cohort: First and Second-Degree MCS (n=339)</text></g>
<g fill="#cfcfcf" stroke="#333" stroke-width="0.7"><path d="M673.8 460.8h4.14"/><path d="M677.94 460.8h4.14"/><path d="M682.08 460.8h4.14"/><rect x="686.5" y="460.5" width="4" height="0.6"/><rect x="690.5" y="460.5" width="4" height="0.6"/><rect x="694.5" y="458.5" width="4" height="2.6"/><rect x="698.5" y="457.5" width="4" height="3.6"/><rect x="702.5" y="454.5" width="4" height="6.6"/><rect x="706.5" y="451.5" width="5" height="9.6"/><rect x="711.5" y="444.5" width="4" height="16.6"/><rect x="715.5" y="439.5" width="4" height="21.6"/><rect x="719.5" y="430.5" width="4" height="30.6"/><rect x="723.5" y="423.5" width="4" height="37.6"/><rect x="727.5" y="419.5" width="4" height="41.6"/><rect x="731.5" y="417.5" width="4" height="43.6"/><rect x="735.5" y="421.5" width="5" height="39.6"/><rect x="740.5" y="430.5" width="4" height="30.6"/><rect x="744.5" y="438.5" width="4" height="22.6"/><rect x="748.5" y="445.5" width="4" height="15.6"/><rect x="752.5" y="452.5" width="4" height="8.6"/><rect x="756.5" y="457.5" width="4" height="3.6"/><rect x="760.5" y="459.5" width="4" height="1.6"/><path d="M764.88 460.8h4.14"/></g>
<g stroke="#333" stroke-width="0.75" fill="none"><path d="M695.9 388.5H722.5M740.5 388.5H767"/><rect x="722.5" y="376.5" width="18" height="24" fill="#fff"/></g>
<path d="M731.5 376.5V400.5" stroke="#000" stroke-width="1.0"/>
<rect x="767" y="363.6" width="29.3" height="97.5" fill="#e7fd0f" fill-opacity="0.5"/>
<g stroke="#000" stroke-opacity="0.7" stroke-width="0.85" fill="none"><path d="M660.95 388.5h2.5M662.2 387.25v2.5"/><path d="M665.95 388.5h2.5M667.2 387.25v2.5"/><path d="M668.25 388.5h2.5M669.5 387.25v2.5"/><path d="M668.75 388.5h2.5M670 387.25v2.5"/><path d="M669.25 388.5h2.5M670.5 387.25v2.5"/><path d="M670.75 388.5h2.5M672 387.25v2.5"/><path d="M671.25 388.5h2.5M672.5 387.25v2.5"/><path d="M671.75 388.5h2.5M673 387.25v2.5"/><path d="M673.25 388.5h2.5M674.5 387.25v2.5"/><path d="M673.75 388.5h2.5M675 387.25v2.5"/><path d="M674.25 388.5h2.5M675.5 387.25v2.5"/><path d="M676.05 388.5h2.5M677.3 387.25v2.5"/><path d="M676.55 388.5h2.5M677.8 387.25v2.5"/><path d="M677.05 388.5h2.5M678.3 387.25v2.5"/><path d="M678.85 388.5h2.5M680.1 387.25v2.5"/><path d="M679.35 388.5h2.5M680.6 387.25v2.5"/><path d="M679.85 388.5h2.5M681.1 387.25v2.5"/><path d="M681.35 388.5h2.5M682.6 387.25v2.5"/><path d="M681.85 388.5h2.5M683.1 387.25v2.5"/><path d="M682.35 388.5h2.5M683.6 387.25v2.5"/><path d="M683.85 388.5h2.5M685.1 387.25v2.5"/><path d="M684.35 388.5h2.5M685.6 387.25v2.5"/><path d="M684.85 388.5h2.5M686.1 387.25v2.5"/><path d="M686.25 388.5h2.5M687.5 387.25v2.5"/><path d="M686.85 388.5h2.5M688.1 387.25v2.5"/><path d="M687.45 388.5h2.5M688.7 387.25v2.5"/><path d="M688.05 388.5h2.5M689.3 387.25v2.5"/><path d="M688.65 388.5h2.5M689.9 387.25v2.5"/><path d="M689.25 388.5h2.5M690.5 387.25v2.5"/><path d="M689.85 388.5h2.5M691.1 387.25v2.5"/><path d="M690.45 388.5h2.5M691.7 387.25v2.5"/><path d="M691.05 388.5h2.5M692.3 387.25v2.5"/><path d="M691.65 388.5h2.5M692.9 387.25v2.5"/><path d="M692.25 388.5h2.5M693.5 387.25v2.5"/><path d="M692.85 388.5h2.5M694.1 387.25v2.5"/><path d="M693.45 388.5h2.5M694.7 387.25v2.5"/><path d="M694.05 388.5h2.5M695.3 387.25v2.5"/><path d="M765.75 388.5h2.5M767 387.25v2.5"/><path d="M766.35 388.5h2.5M767.6 387.25v2.5"/><path d="M766.95 388.5h2.5M768.2 387.25v2.5"/><path d="M767.55 388.5h2.5M768.8 387.25v2.5"/><path d="M768.15 388.5h2.5M769.4 387.25v2.5"/><path d="M768.75 388.5h2.5M770 387.25v2.5"/><path d="M769.35 388.5h2.5M770.6 387.25v2.5"/><path d="M769.95 388.5h2.5M771.2 387.25v2.5"/><path d="M772.5 388.5h2.5M773.75 387.25v2.5"/><path d="M775.25 388.5h2.5M776.5 387.25v2.5"/><path d="M778 388.5h2.5M779.25 387.25v2.5"/><path d="M782.25 388.5h2.5M783.5 387.25v2.5"/><path d="M784.25 388.5h2.5M785.5 387.25v2.5"/></g>
<rect x="752.95" y="412.6" width="1.9" height="48.5" fill="#f0201a"/>
<rect x="649.4" y="363.6" width="146.9" height="97.5" fill="none" stroke="#707070" stroke-width="1.0"/>
<path d="M649.4 461.1v-1.2M678.78 461.1v-1.2M708.16 461.1v-1.2M737.54 461.1v-1.2M766.92 461.1v-1.2M796.3 461.1v-1.2M649.4 461.1h1.2M649.4 455.03h1.2M649.4 448.95h1.2M649.4 442.88h1.2M649.4 436.8h1.2M649.4 430.73h1.2M649.4 424.65h1.2M649.4 418.57h1.2M649.4 412.5h1.2" stroke="#555" stroke-width="0.5"/>
<g font-size="4.5" text-anchor="middle" fill="#3a3a3a"><text x="649.4" y="466.6" textLength="2.74" lengthAdjust="spacingAndGlyphs">0</text><text x="678.78" y="466.6" textLength="2.74" lengthAdjust="spacingAndGlyphs">2</text><text x="708.16" y="466.6" textLength="2.74" lengthAdjust="spacingAndGlyphs">4</text><text x="737.54" y="466.6" textLength="2.74" lengthAdjust="spacingAndGlyphs">6</text><text x="766.92" y="466.6" textLength="2.74" lengthAdjust="spacingAndGlyphs">8</text><text x="796.3" y="466.6" textLength="5.47" lengthAdjust="spacingAndGlyphs">10</text></g>
<g font-size="4.5" text-anchor="end" fill="#3a3a3a"><text x="647.8" y="462.6" textLength="2.74" lengthAdjust="spacingAndGlyphs">0</text><text x="647.8" y="456.53" textLength="8.21" lengthAdjust="spacingAndGlyphs">200</text><text x="647.8" y="450.45" textLength="8.21" lengthAdjust="spacingAndGlyphs">400</text><text x="647.8" y="444.38" textLength="8.21" lengthAdjust="spacingAndGlyphs">600</text><text x="647.8" y="438.3" textLength="8.21" lengthAdjust="spacingAndGlyphs">800</text><text x="647.8" y="432.23" textLength="10.94" lengthAdjust="spacingAndGlyphs">1000</text><text x="647.8" y="426.15" textLength="10.94" lengthAdjust="spacingAndGlyphs">1200</text><text x="647.8" y="420.07" textLength="10.94" lengthAdjust="spacingAndGlyphs">1400</text><text x="647.8" y="414" textLength="10.94" lengthAdjust="spacingAndGlyphs">1600</text></g>
<g font-size="4.8" letter-spacing="0" text-anchor="middle" fill="#111"><text x="722.85" y="357.3" textLength="79.53" lengthAdjust="spacing">STAT2 expression in TH34_1352_S01</text><text x="722.85" y="361.8" textLength="93.47" lengthAdjust="spacing">Background cohort: Pan-Cancer (n=11456)</text></g>
<g fill="#cfcfcf" stroke="#333" stroke-width="0.6"><rect x="708.5" y="590.5" width="1" height="0.6"/><rect x="709.5" y="589.5" width="2" height="1.6"/><rect x="711.5" y="589.5" width="2" height="1.6"/><rect x="713.5" y="586.5" width="2" height="4.6"/><rect x="715.5" y="584.5" width="2" height="6.6"/><rect x="717.5" y="587.5" width="2" height="3.6"/><rect x="719.5" y="583.5" width="2" height="7.6"/><rect x="721.5" y="583.5" width="2" height="7.6"/><rect x="723.5" y="577.5" width="1" height="13.6"/><rect x="724.5" y="572.5" width="2" height="18.6"/><rect x="726.5" y="574.5" width="2" height="16.6"/><rect x="728.5" y="562.5" width="2" height="28.6"/><rect x="730.5" y="565.5" width="2" height="25.6"/><rect x="732.5" y="557.5" width="2" height="33.6"/><rect x="734.5" y="548.5" width="2" height="42.6"/><rect x="736.5" y="544.5" width="2" height="46.6"/><rect x="738.5" y="554.5" width="1" height="36.6"/><rect x="739.5" y="551.5" width="2" height="39.6"/><rect x="741.5" y="565.5" width="2" height="25.6"/><rect x="743.5" y="563.5" width="2" height="27.6"/><rect x="745.5" y="563.5" width="2" height="27.6"/><rect x="747.5" y="576.5" width="2" height="14.6"/><rect x="749.5" y="584.5" width="2" height="6.6"/><rect x="751.5" y="586.5" width="1" height="4.6"/><rect x="752.5" y="588.5" width="2" height="2.6"/><rect x="754.5" y="589.5" width="2" height="1.6"/><rect x="756.5" y="589.5" width="2" height="1.6"/><rect x="702.4" y="590.3" width="2.5" height="0.8"/></g>
<g stroke="#333" stroke-width="0.75" fill="none"><path d="M712.4 518.5H730.5M741.5 518.5H758.4"/><rect x="730.5" y="506.5" width="11" height="24" fill="#fff"/></g>
<path d="M736.5 506.5V530.5" stroke="#000" stroke-width="1.0"/>
<rect x="758.4" y="494" width="37.9" height="97.1" fill="#e7fd0f" fill-opacity="0.5"/>
<g stroke="#000" stroke-opacity="0.7" stroke-width="0.85" fill="none"><path d="M701.45 518.5h2.5M702.7 517.25v2.5"/><path d="M708.45 518.5h2.5M709.7 517.25v2.5"/><path d="M709.65 518.5h2.5M710.9 517.25v2.5"/><path d="M710.45 518.5h2.5M711.7 517.25v2.5"/></g>
<rect x="752.55" y="542.7" width="1.9" height="48.4" fill="#f0201a"/>
<rect x="649.4" y="494" width="146.9" height="97.1" fill="none" stroke="#707070" stroke-width="1.0"/>
<path d="M649.4 591.1v-1.2M678.78 591.1v-1.2M708.16 591.1v-1.2M737.54 591.1v-1.2M766.92 591.1v-1.2M796.3 591.1v-1.2M649.4 591.1h1.2M649.4 584.19h1.2M649.4 577.27h1.2M649.4 570.36h1.2M649.4 563.44h1.2M649.4 556.53h1.2M649.4 549.61h1.2M649.4 542.7h1.2" stroke="#555" stroke-width="0.5"/>
<g font-size="4.5" text-anchor="middle" fill="#3a3a3a"><text x="649.4" y="596.6" textLength="2.74" lengthAdjust="spacingAndGlyphs">0</text><text x="678.78" y="596.6" textLength="2.74" lengthAdjust="spacingAndGlyphs">2</text><text x="708.16" y="596.6" textLength="2.74" lengthAdjust="spacingAndGlyphs">4</text><text x="737.54" y="596.6" textLength="2.74" lengthAdjust="spacingAndGlyphs">6</text><text x="766.92" y="596.6" textLength="2.74" lengthAdjust="spacingAndGlyphs">8</text><text x="796.3" y="596.6" textLength="5.47" lengthAdjust="spacingAndGlyphs">10</text></g>
<g font-size="4.5" text-anchor="end" fill="#3a3a3a"><text x="647.8" y="592.6" textLength="2.74" lengthAdjust="spacingAndGlyphs">0</text><text x="647.8" y="585.69" textLength="2.74" lengthAdjust="spacingAndGlyphs">5</text><text x="647.8" y="578.77" textLength="5.47" lengthAdjust="spacingAndGlyphs">10</text><text x="647.8" y="571.86" textLength="5.47" lengthAdjust="spacingAndGlyphs">15</text><text x="647.8" y="564.94" textLength="5.47" lengthAdjust="spacingAndGlyphs">20</text><text x="647.8" y="558.03" textLength="5.47" lengthAdjust="spacingAndGlyphs">25</text><text x="647.8" y="551.11" textLength="5.47" lengthAdjust="spacingAndGlyphs">30</text><text x="647.8" y="544.2" textLength="5.47" lengthAdjust="spacingAndGlyphs">35</text></g>
<g font-size="4.8" letter-spacing="0" text-anchor="middle" fill="#111"><text x="722.85" y="487.7" textLength="79.53" lengthAdjust="spacing">STAT2 expression in TH34_1352_S01</text><text x="722.85" y="492.2" textLength="127.49" lengthAdjust="spacing">Background cohort: First and Second-Degree MCS (n=339)</text></g>
<g fill="#cfcfcf" stroke="#333" stroke-width="0.7"><rect x="27.5" y="788.5" width="5" height="0.9"/><rect x="32.5" y="788.5" width="4" height="0.9"/><rect x="36.5" y="788.5" width="5" height="0.9"/><rect x="41.5" y="788.5" width="4" height="0.9"/><rect x="45.5" y="788.5" width="5" height="0.9"/><rect x="50.5" y="787.5" width="4" height="1.9"/><rect x="54.5" y="786.5" width="5" height="2.9"/><rect x="59.5" y="784.5" width="4" height="4.9"/><rect x="63.5" y="781.5" width="5" height="7.9"/><rect x="68.5" y="776.5" width="4" height="12.9"/><rect x="72.5" y="767.5" width="5" height="21.9"/><rect x="77.5" y="754.5" width="4" height="34.9"/><rect x="81.5" y="744.5" width="5" height="44.9"/><rect x="86.5" y="741.5" width="4" height="47.9"/><rect x="90.5" y="747.5" width="5" height="41.9"/><rect x="95.5" y="763.5" width="4" height="25.9"/><rect x="99.5" y="774.5" width="5" height="14.9"/><rect x="104.5" y="781.5" width="4" height="7.9"/><rect x="108.5" y="786.5" width="5" height="2.9"/><rect x="113.5" y="787.5" width="4" height="1.9"/><rect x="117.5" y="788.5" width="5" height="0.9"/></g>
<g stroke="#333" stroke-width="0.75" fill="none"><path d="M58.6 716.5H79.5M93.5 716.5H114"/><rect x="79.5" y="703.5" width="14" height="25" fill="#fff"/></g>
<path d="M86.5 703.5V728.5" stroke="#000" stroke-width="1.0"/>
<rect x="114" y="692" width="46.6" height="97.4" fill="#e7fd0f" fill-opacity="0.5"/>
<g stroke="#000" stroke-opacity="0.7" stroke-width="0.85" fill="none"><path d="M22.05 716.5h2.5M23.3 715.25v2.5"/><path d="M24.55 716.5h2.5M25.8 715.25v2.5"/><path d="M26.55 716.5h2.5M27.8 715.25v2.5"/><path d="M27.05 716.5h2.5M28.3 715.25v2.5"/><path d="M27.55 716.5h2.5M28.8 715.25v2.5"/><path d="M28.85 716.5h2.5M30.1 715.25v2.5"/><path d="M29.35 716.5h2.5M30.6 715.25v2.5"/><path d="M29.85 716.5h2.5M31.1 715.25v2.5"/><path d="M31.05 716.5h2.5M32.3 715.25v2.5"/><path d="M31.55 716.5h2.5M32.8 715.25v2.5"/><path d="M32.05 716.5h2.5M33.3 715.25v2.5"/><path d="M33.45 716.5h2.5M34.7 715.25v2.5"/><path d="M33.95 716.5h2.5M35.2 715.25v2.5"/><path d="M34.45 716.5h2.5M35.7 715.25v2.5"/><path d="M35.55 716.5h2.5M36.8 715.25v2.5"/><path d="M36.15 716.5h2.5M37.4 715.25v2.5"/><path d="M36.75 716.5h2.5M38 715.25v2.5"/><path d="M37.35 716.5h2.5M38.6 715.25v2.5"/><path d="M37.95 716.5h2.5M39.2 715.25v2.5"/><path d="M38.55 716.5h2.5M39.8 715.25v2.5"/><path d="M39.95 716.5h2.5M41.2 715.25v2.5"/><path d="M41.15 716.5h2.5M42.4 715.25v2.5"/><path d="M42.35 716.5h2.5M43.6 715.25v2.5"/><path d="M43.65 716.5h2.5M44.9 715.25v2.5"/><path d="M44.25 716.5h2.5M45.5 715.25v2.5"/><path d="M44.85 716.5h2.5M46.1 715.25v2.5"/><path d="M45.45 716.5h2.5M46.7 715.25v2.5"/><path d="M46.05 716.5h2.5M47.3 715.25v2.5"/><path d="M46.65 716.5h2.5M47.9 715.25v2.5"/><path d="M47.25 716.5h2.5M48.5 715.25v2.5"/><path d="M47.85 716.5h2.5M49.1 715.25v2.5"/><path d="M48.45 716.5h2.5M49.7 715.25v2.5"/><path d="M49.05 716.5h2.5M50.3 715.25v2.5"/><path d="M50.55 716.5h2.5M51.8 715.25v2.5"/><path d="M51.15 716.5h2.5M52.4 715.25v2.5"/><path d="M51.75 716.5h2.5M53 715.25v2.5"/><path d="M52.35 716.5h2.5M53.6 715.25v2.5"/><path d="M52.95 716.5h2.5M54.2 715.25v2.5"/><path d="M53.55 716.5h2.5M54.8 715.25v2.5"/><path d="M54.15 716.5h2.5M55.4 715.25v2.5"/><path d="M54.75 716.5h2.5M56 715.25v2.5"/><path d="M55.35 716.5h2.5M56.6 715.25v2.5"/><path d="M55.95 716.5h2.5M57.2 715.25v2.5"/><path d="M56.55 716.5h2.5M57.8 715.25v2.5"/><path d="M112.75 716.5h2.5M114 715.25v2.5"/><path d="M113.35 716.5h2.5M114.6 715.25v2.5"/><path d="M113.95 716.5h2.5M115.2 715.25v2.5"/><path d="M114.55 716.5h2.5M115.8 715.25v2.5"/><path d="M115.15 716.5h2.5M116.4 715.25v2.5"/><path d="M115.75 716.5h2.5M117 715.25v2.5"/><path d="M116.35 716.5h2.5M117.6 715.25v2.5"/><path d="M116.95 716.5h2.5M118.2 715.25v2.5"/><path d="M117.55 716.5h2.5M118.8 715.25v2.5"/><path d="M118.15 716.5h2.5M119.4 715.25v2.5"/><path d="M118.75 716.5h2.5M120 715.25v2.5"/><path d="M119.35 716.5h2.5M120.6 715.25v2.5"/><path d="M119.95 716.5h2.5M121.2 715.25v2.5"/><path d="M120.55 716.5h2.5M121.8 715.25v2.5"/><path d="M121.55 716.5h2.5M122.8 715.25v2.5"/><path d="M122.75 716.5h2.5M124 715.25v2.5"/><path d="M123.95 716.5h2.5M125.2 715.25v2.5"/><path d="M125.05 716.5h2.5M126.3 715.25v2.5"/><path d="M126.85 716.5h2.5M128.1 715.25v2.5"/><path d="M129.35 716.5h2.5M130.6 715.25v2.5"/><path d="M134.05 716.5h2.5M135.3 715.25v2.5"/><path d="M156.25 716.5h2.5M157.5 715.25v2.5"/></g>
<rect x="94.75" y="740.2" width="1.9" height="49.2" fill="#f0201a"/>
<rect x="14" y="692" width="146.6" height="97.4" fill="none" stroke="#707070" stroke-width="1.0"/>
<path d="M14 789.4v-1.2M30.29 789.4v-1.2M46.58 789.4v-1.2M62.87 789.4v-1.2M79.16 789.4v-1.2M95.45 789.4v-1.2M111.74 789.4v-1.2M128.03 789.4v-1.2M144.32 789.4v-1.2M160.61 789.4v-1.2M14 789.4h1.2M14 777.15h1.2M14 764.9h1.2M14 752.65h1.2M14 740.4h1.2" stroke="#555" stroke-width="0.5"/>
<g font-size="4.5" text-anchor="middle" fill="#3a3a3a"><text x="14" y="794.9" textLength="2.74" lengthAdjust="spacingAndGlyphs">1</text><text x="30.29" y="794.9" textLength="2.74" lengthAdjust="spacingAndGlyphs">2</text><text x="46.58" y="794.9" textLength="2.74" lengthAdjust="spacingAndGlyphs">3</text><text x="62.87" y="794.9" textLength="2.74" lengthAdjust="spacingAndGlyphs">4</text><text x="79.16" y="794.9" textLength="2.74" lengthAdjust="spacingAndGlyphs">5</text><text x="95.45" y="794.9" textLength="2.74" lengthAdjust="spacingAndGlyphs">6</text><text x="111.74" y="794.9" textLength="2.74" lengthAdjust="spacingAndGlyphs">7</text><text x="128.03" y="794.9" textLength="2.74" lengthAdjust="spacingAndGlyphs">8</text><text x="144.32" y="794.9" textLength="2.74" lengthAdjust="spacingAndGlyphs">9</text><text x="160.61" y="794.9" textLength="5.47" lengthAdjust="spacingAndGlyphs">10</text></g>
<g font-size="4.5" text-anchor="end" fill="#3a3a3a"><text x="12.4" y="790.9" textLength="2.74" lengthAdjust="spacingAndGlyphs">0</text><text x="12.4" y="778.65" textLength="8.21" lengthAdjust="spacingAndGlyphs">500</text><text x="12.4" y="766.4" textLength="10.94" lengthAdjust="spacingAndGlyphs">1000</text><text x="12.4" y="754.15" textLength="10.94" lengthAdjust="spacingAndGlyphs">1500</text><text x="12.4" y="741.9" textLength="10.94" lengthAdjust="spacingAndGlyphs">2000</text></g>
<g font-size="4.8" letter-spacing="0" text-anchor="middle" fill="#111"><text x="87.3" y="685.7" textLength="77.49" lengthAdjust="spacing">RAF1 expression in TH34_1352_S01</text><text x="87.3" y="690.2" textLength="93.47" lengthAdjust="spacing">Background cohort: Pan-Cancer (n=11456)</text></g>
<g fill="#cfcfcf" stroke="#333" stroke-width="0.4"><rect x="64.06" y="916.25" width="1.25" height="3.15"/><rect x="65.31" y="916.25" width="1.25" height="3.15"/><rect x="67.81" y="916.25" width="1.25" height="3.15"/><rect x="69.06" y="915" width="1.25" height="4.4"/><rect x="70.31" y="915" width="1.25" height="4.4"/><rect x="71.56" y="915" width="1.25" height="4.4"/><rect x="72.81" y="912.2" width="1.25" height="7.2"/><rect x="74.06" y="915" width="1.25" height="4.4"/><rect x="75.31" y="909" width="1.25" height="10.4"/><rect x="76.56" y="899.4" width="1.25" height="20"/><rect x="77.81" y="891.25" width="1.25" height="28.15"/><rect x="79.06" y="894" width="1.25" height="25.4"/><rect x="80.31" y="898" width="1.25" height="21.4"/><rect x="81.56" y="875.9" width="1.25" height="43.5"/><rect x="82.81" y="874.7" width="1.25" height="44.7"/><rect x="84.06" y="887.2" width="1.25" height="32.2"/><rect x="85.31" y="877.2" width="1.25" height="42.2"/><rect x="86.56" y="874.7" width="1.25" height="44.7"/><rect x="87.81" y="883.1" width="1.25" height="36.3"/><rect x="89.06" y="890" width="1.25" height="29.4"/><rect x="90.31" y="898.1" width="1.25" height="21.3"/><rect x="91.56" y="900" width="1.25" height="19.4"/><rect x="92.81" y="900" width="1.25" height="19.4"/><rect x="94.06" y="908" width="1.25" height="11.4"/><rect x="95.31" y="908" width="1.25" height="11.4"/><rect x="97.81" y="916.25" width="1.25" height="3.15"/><rect x="99.06" y="916.25" width="1.25" height="3.15"/><rect x="100.31" y="917" width="1.25" height="2.4"/><rect x="102.81" y="917" width="1.25" height="2.4"/></g>
<g stroke="#333" stroke-width="0.75" fill="none"><path d="M68.6 846.5H80.5M89.5 846.5H102.4"/><rect x="80.5" y="834.5" width="9" height="24" fill="#fff"/></g>
<path d="M85.5 834.5V858.5" stroke="#000" stroke-width="1.0"/>
<rect x="101.6" y="822" width="58.6" height="97.4" fill="#e7fd0f" fill-opacity="0.5"/>
<g stroke="#000" stroke-opacity="0.7" stroke-width="0.85" fill="none"><path d="M63.35 846.5h2.5M64.6 845.25v2.5"/><path d="M66.75 846.5h2.5M68 845.25v2.5"/><path d="M103.25 846.5h2.5M104.5 845.25v2.5"/></g>
<rect x="94.55" y="870.3" width="1.9" height="49.1" fill="#f0201a"/>
<rect x="13.6" y="822" width="146.6" height="97.4" fill="none" stroke="#707070" stroke-width="1.0"/>
<path d="M13.6 919.4v-1.2M29.84 919.4v-1.2M46.08 919.4v-1.2M62.32 919.4v-1.2M78.56 919.4v-1.2M94.8 919.4v-1.2M111.04 919.4v-1.2M127.28 919.4v-1.2M143.52 919.4v-1.2M159.76 919.4v-1.2M13.6 919.4h1.2M13.6 912.4h1.2M13.6 905.4h1.2M13.6 898.4h1.2M13.6 891.4h1.2M13.6 884.4h1.2M13.6 877.4h1.2M13.6 870.4h1.2" stroke="#555" stroke-width="0.5"/>
<g font-size="4.5" text-anchor="middle" fill="#3a3a3a"><text x="13.6" y="924.9" textLength="2.74" lengthAdjust="spacingAndGlyphs">1</text><text x="29.84" y="924.9" textLength="2.74" lengthAdjust="spacingAndGlyphs">2</text><text x="46.08" y="924.9" textLength="2.74" lengthAdjust="spacingAndGlyphs">3</text><text x="62.32" y="924.9" textLength="2.74" lengthAdjust="spacingAndGlyphs">4</text><text x="78.56" y="924.9" textLength="2.74" lengthAdjust="spacingAndGlyphs">5</text><text x="94.8" y="924.9" textLength="2.74" lengthAdjust="spacingAndGlyphs">6</text><text x="111.04" y="924.9" textLength="2.74" lengthAdjust="spacingAndGlyphs">7</text><text x="127.28" y="924.9" textLength="2.74" lengthAdjust="spacingAndGlyphs">8</text><text x="143.52" y="924.9" textLength="2.74" lengthAdjust="spacingAndGlyphs">9</text><text x="159.76" y="924.9" textLength="5.47" lengthAdjust="spacingAndGlyphs">10</text></g>
<g font-size="4.5" text-anchor="end" fill="#3a3a3a"><text x="12" y="920.9" textLength="2.74" lengthAdjust="spacingAndGlyphs">0</text><text x="12" y="913.9" textLength="2.74" lengthAdjust="spacingAndGlyphs">5</text><text x="12" y="906.9" textLength="5.47" lengthAdjust="spacingAndGlyphs">10</text><text x="12" y="899.9" textLength="5.47" lengthAdjust="spacingAndGlyphs">15</text><text x="12" y="892.9" textLength="5.47" lengthAdjust="spacingAndGlyphs">20</text><text x="12" y="885.9" textLength="5.47" lengthAdjust="spacingAndGlyphs">25</text><text x="12" y="878.9" textLength="5.47" lengthAdjust="spacingAndGlyphs">30</text><text x="12" y="871.9" textLength="5.47" lengthAdjust="spacingAndGlyphs">35</text></g>
<g font-size="4.8" letter-spacing="0" text-anchor="middle" fill="#111"><text x="86.9" y="815.7" textLength="77.49" lengthAdjust="spacing">RAF1 expression in TH34_1352_S01</text><text x="86.9" y="820.2" textLength="127.49" lengthAdjust="spacing">Background cohort: First and Second-Degree MCS (n=339)</text></g>
<g fill="#cfcfcf" stroke="#333" stroke-width="0.7"><rect x="226.5" y="784.5" width="4" height="4.9"/><rect x="230.5" y="773.5" width="4" height="15.9"/><rect x="234.5" y="766.5" width="5" height="22.9"/><rect x="239.5" y="761.5" width="4" height="27.9"/><rect x="243.5" y="756.5" width="4" height="32.9"/><rect x="247.5" y="752.5" width="5" height="36.9"/><rect x="252.5" y="744.5" width="4" height="44.9"/><rect x="256.5" y="742.5" width="5" height="46.9"/><rect x="261.5" y="741.5" width="4" height="47.9"/><rect x="265.5" y="742.5" width="4" height="46.9"/><rect x="269.5" y="745.5" width="5" height="43.9"/><rect x="274.5" y="754.5" width="4" height="34.9"/><rect x="278.5" y="757.5" width="5" height="31.9"/><rect x="283.5" y="756.5" width="4" height="32.9"/><rect x="287.5" y="759.5" width="4" height="29.9"/><rect x="291.5" y="759.5" width="5" height="29.9"/><rect x="296.5" y="761.5" width="4" height="27.9"/><rect x="300.5" y="766.5" width="5" height="22.9"/><rect x="305.5" y="773.5" width="4" height="15.9"/><rect x="309.5" y="777.5" width="4" height="11.9"/><rect x="313.5" y="783.5" width="5" height="5.9"/><rect x="318.5" y="785.5" width="4" height="3.9"/><rect x="322.5" y="787.5" width="4" height="1.9"/><rect x="326.5" y="788.5" width="5" height="0.9"/><rect x="331.5" y="788.5" width="4" height="0.9"/></g>
<g stroke="#333" stroke-width="0.75" fill="none"><path d="M225.6 716.5H254.5M287.5 716.5H334.6"/><rect x="254.5" y="703.5" width="33" height="25" fill="#fff"/></g>
<path d="M268.5 703.5V728.5" stroke="#000" stroke-width="1.0"/>
<rect x="336" y="691.4" width="36.4" height="98" fill="#e7fd0f" fill-opacity="0.5"/>
<g stroke="#000" stroke-opacity="0.7" stroke-width="0.85" fill="none"><path d="M335.75 716.5h2.5M337 715.25v2.5"/><path d="M341.15 716.5h2.5M342.4 715.25v2.5"/><path d="M342.75 716.5h2.5M344 715.25v2.5"/><path d="M347.75 716.5h2.5M349 715.25v2.5"/><path d="M356.15 716.5h2.5M357.4 715.25v2.5"/></g>
<rect x="309.65" y="740.2" width="1.9" height="49.2" fill="#f0201a"/>
<rect x="225.6" y="691.4" width="146.8" height="98" fill="none" stroke="#707070" stroke-width="1.0"/>
<path d="M225.6 789.4v-1.2M250 789.4v-1.2M274.4 789.4v-1.2M298.8 789.4v-1.2M323.2 789.4v-1.2M347.6 789.4v-1.2M372 789.4v-1.2M225.6 789.4h1.2M225.6 783.96h1.2M225.6 778.51h1.2M225.6 773.07h1.2M225.6 767.62h1.2M225.6 762.18h1.2M225.6 756.73h1.2M225.6 751.29h1.2M225.6 745.84h1.2M225.6 740.4h1.2" stroke="#555" stroke-width="0.5"/>
<g font-size="4.5" text-anchor="middle" fill="#3a3a3a"><text x="225.6" y="794.9" textLength="2.74" lengthAdjust="spacingAndGlyphs">0</text><text x="250" y="794.9" textLength="2.74" lengthAdjust="spacingAndGlyphs">2</text><text x="274.4" y="794.9" textLength="2.74" lengthAdjust="spacingAndGlyphs">4</text><text x="298.8" y="794.9" textLength="2.74" lengthAdjust="spacingAndGlyphs">6</text><text x="323.2" y="794.9" textLength="2.74" lengthAdjust="spacingAndGlyphs">8</text><text x="347.6" y="794.9" textLength="5.47" lengthAdjust="spacingAndGlyphs">10</text><text x="372" y="794.9" textLength="5.47" lengthAdjust="spacingAndGlyphs">12</text></g>
<g font-size="4.5" text-anchor="end" fill="#3a3a3a"><text x="224" y="790.9" textLength="2.74" lengthAdjust="spacingAndGlyphs">0</text><text x="224" y="785.46" textLength="8.21" lengthAdjust="spacingAndGlyphs">100</text><text x="224" y="780.01" textLength="8.21" lengthAdjust="spacingAndGlyphs">200</text><text x="224" y="774.57" textLength="8.21" lengthAdjust="spacingAndGlyphs">300</text><text x="224" y="769.12" textLength="8.21" lengthAdjust="spacingAndGlyphs">400</text><text x="224" y="763.68" textLength="8.21" lengthAdjust="spacingAndGlyphs">500</text><text x="224" y="758.23" textLength="8.21" lengthAdjust="spacingAndGlyphs">600</text><text x="224" y="752.79" textLength="8.21" lengthAdjust="spacingAndGlyphs">700</text><text x="224" y="747.34" textLength="8.21" lengthAdjust="spacingAndGlyphs">800</text><text x="224" y="741.9" textLength="8.21" lengthAdjust="spacingAndGlyphs">900</text></g>
<g font-size="4.8" letter-spacing="0" text-anchor="middle" fill="#111"><text x="299" y="685.1" textLength="81.83" lengthAdjust="spacing">CCND2 expression in TH34_1352_S01</text><text x="299" y="689.6" textLength="93.47" lengthAdjust="spacing">Background cohort: Pan-Cancer (n=11456)</text></g>
<g fill="#cfcfcf" stroke="#333" stroke-width="0.58"><rect x="246.5" y="916.5" width="2" height="2.9"/><rect x="248.5" y="915.5" width="2" height="3.9"/><rect x="250.5" y="913.5" width="3" height="5.9"/><rect x="253.5" y="915.5" width="2" height="3.9"/><rect x="255.5" y="910.5" width="3" height="8.9"/><rect x="258.5" y="903.5" width="2" height="15.9"/><rect x="260.5" y="899.5" width="3" height="19.9"/><rect x="263.5" y="899.5" width="2" height="19.9"/><rect x="265.5" y="882.5" width="2" height="36.9"/><rect x="267.5" y="881.5" width="3" height="37.9"/><rect x="270.5" y="871.5" width="2" height="47.9"/><rect x="272.5" y="873.5" width="3" height="45.9"/><rect x="275.5" y="886.5" width="2" height="32.9"/><rect x="277.5" y="901.5" width="3" height="17.9"/><rect x="280.5" y="890.5" width="2" height="28.9"/><rect x="282.5" y="902.5" width="2" height="16.9"/><rect x="284.5" y="904.5" width="3" height="14.9"/><rect x="287.5" y="906.5" width="2" height="12.9"/><rect x="289.5" y="913.5" width="3" height="5.9"/><rect x="292.5" y="910.5" width="2" height="8.9"/><rect x="294.5" y="916.5" width="3" height="2.9"/><rect x="297.5" y="910.5" width="2" height="8.9"/><rect x="299.5" y="914.5" width="3" height="4.9"/><rect x="302.5" y="916.5" width="2" height="2.9"/><rect x="304.5" y="917.5" width="2" height="1.9"/><rect x="306.5" y="918.5" width="3" height="0.9"/><rect x="316.5" y="918.5" width="3" height="0.9"/><rect x="319.5" y="918.5" width="2" height="0.9"/></g>
<g stroke="#333" stroke-width="0.75" fill="none"><path d="M246 846.5H267.5M281.5 846.5H301"/><rect x="267.5" y="834.5" width="14" height="24" fill="#fff"/></g>
<path d="M273.5 834.5V858.5" stroke="#000" stroke-width="1.0"/>
<rect x="301" y="822" width="71.4" height="97.4" fill="#e7fd0f" fill-opacity="0.5"/>
<g stroke="#000" stroke-opacity="0.7" stroke-width="0.85" fill="none"><path d="M244.75 846.5h2.5M246 845.25v2.5"/><path d="M301.75 846.5h2.5M303 845.25v2.5"/><path d="M303.35 846.5h2.5M304.6 845.25v2.5"/><path d="M304.75 846.5h2.5M306 845.25v2.5"/><path d="M307.75 846.5h2.5M309 845.25v2.5"/><path d="M314.75 846.5h2.5M316 845.25v2.5"/><path d="M317.75 846.5h2.5M319 845.25v2.5"/></g>
<rect x="309.75" y="870.4" width="1.9" height="49" fill="#f0201a"/>
<rect x="225.6" y="822" width="146.8" height="97.4" fill="none" stroke="#707070" stroke-width="1.0"/>
<path d="M225.6 919.4v-1.2M250 919.4v-1.2M274.4 919.4v-1.2M298.8 919.4v-1.2M323.2 919.4v-1.2M347.6 919.4v-1.2M372 919.4v-1.2M225.6 919.4h1.2M225.6 913.27h1.2M225.6 907.15h1.2M225.6 901.02h1.2M225.6 894.9h1.2M225.6 888.77h1.2M225.6 882.65h1.2M225.6 876.52h1.2M225.6 870.4h1.2" stroke="#555" stroke-width="0.5"/>
<g font-size="4.5" text-anchor="middle" fill="#3a3a3a"><text x="225.6" y="924.9" textLength="2.74" lengthAdjust="spacingAndGlyphs">0</text><text x="250" y="924.9" textLength="2.74" lengthAdjust="spacingAndGlyphs">2</text><text x="274.4" y="924.9" textLength="2.74" lengthAdjust="spacingAndGlyphs">4</text><text x="298.8" y="924.9" textLength="2.74" lengthAdjust="spacingAndGlyphs">6</text><text x="323.2" y="924.9" textLength="2.74" lengthAdjust="spacingAndGlyphs">8</text><text x="347.6" y="924.9" textLength="5.47" lengthAdjust="spacingAndGlyphs">10</text><text x="372" y="924.9" textLength="5.47" lengthAdjust="spacingAndGlyphs">12</text></g>
<g font-size="4.5" text-anchor="end" fill="#3a3a3a"><text x="224" y="920.9" textLength="2.74" lengthAdjust="spacingAndGlyphs">0</text><text x="224" y="914.77" textLength="2.74" lengthAdjust="spacingAndGlyphs">5</text><text x="224" y="908.65" textLength="5.47" lengthAdjust="spacingAndGlyphs">10</text><text x="224" y="902.52" textLength="5.47" lengthAdjust="spacingAndGlyphs">15</text><text x="224" y="896.4" textLength="5.47" lengthAdjust="spacingAndGlyphs">20</text><text x="224" y="890.27" textLength="5.47" lengthAdjust="spacingAndGlyphs">25</text><text x="224" y="884.15" textLength="5.47" lengthAdjust="spacingAndGlyphs">30</text><text x="224" y="878.02" textLength="5.47" lengthAdjust="spacingAndGlyphs">35</text><text x="224" y="871.9" textLength="5.47" lengthAdjust="spacingAndGlyphs">40</text></g>
<g font-size="4.8" letter-spacing="0" text-anchor="middle" fill="#111"><text x="299" y="815.7" textLength="81.83" lengthAdjust="spacing">CCND2 expression in TH34_1352_S01</text><text x="299" y="820.2" textLength="127.49" lengthAdjust="spacing">Background cohort: First and Second-Degree MCS (n=339)</text></g>
<g fill="#cfcfcf" stroke="#333" stroke-width="0.7"><rect x="439.5" y="788.5" width="4" height="0.9"/><rect x="443.5" y="788.5" width="3" height="0.9"/><rect x="446.5" y="788.5" width="4" height="0.9"/><rect x="450.5" y="788.5" width="4" height="0.9"/><rect x="454.5" y="788.5" width="4" height="0.9"/><rect x="458.5" y="788.5" width="3" height="0.9"/><rect x="461.5" y="788.5" width="4" height="0.9"/><rect x="465.5" y="788.5" width="4" height="0.9"/><rect x="469.5" y="788.5" width="4" height="0.9"/><rect x="473.5" y="787.5" width="4" height="1.9"/><rect x="477.5" y="786.5" width="3" height="2.9"/><rect x="480.5" y="784.5" width="4" height="4.9"/><rect x="484.5" y="782.5" width="4" height="6.9"/><rect x="488.5" y="775.5" width="4" height="13.9"/><rect x="492.5" y="761.5" width="4" height="27.9"/><rect x="496.5" y="746.5" width="3" height="42.9"/><rect x="499.5" y="742.5" width="4" height="46.9"/><rect x="503.5" y="755.5" width="4" height="33.9"/><rect x="507.5" y="767.5" width="4" height="21.9"/><rect x="511.5" y="779.5" width="3" height="9.9"/><rect x="514.5" y="785.5" width="4" height="3.9"/><rect x="518.5" y="788.5" width="4" height="0.9"/><rect x="522.5" y="788.5" width="4" height="0.9"/><rect x="526.5" y="788.5" width="4" height="0.9"/></g>
<g stroke="#333" stroke-width="0.75" fill="none"><path d="M480.6 716.5H495.5M505.5 716.5H519.4"/><rect x="495.5" y="703.5" width="10" height="25" fill="#fff"/></g>
<path d="M500.5 703.5V728.5" stroke="#000" stroke-width="1.0"/>
<rect x="519.3" y="691.4" width="65.2" height="98" fill="#e7fd0f" fill-opacity="0.5"/>
<g stroke="#000" stroke-opacity="0.7" stroke-width="0.85" fill="none"><path d="M453.25 716.5h2.5M454.5 715.25v2.5"/><path d="M454.55 716.5h2.5M455.8 715.25v2.5"/><path d="M455.75 716.5h2.5M457 715.25v2.5"/><path d="M457.05 716.5h2.5M458.3 715.25v2.5"/><path d="M458.25 716.5h2.5M459.5 715.25v2.5"/><path d="M458.75 716.5h2.5M460 715.25v2.5"/><path d="M459.35 716.5h2.5M460.6 715.25v2.5"/><path d="M459.95 716.5h2.5M461.2 715.25v2.5"/><path d="M460.55 716.5h2.5M461.8 715.25v2.5"/><path d="M461.15 716.5h2.5M462.4 715.25v2.5"/><path d="M462.75 716.5h2.5M464 715.25v2.5"/><path d="M463.55 716.5h2.5M464.8 715.25v2.5"/><path d="M464.35 716.5h2.5M465.6 715.25v2.5"/><path d="M465.15 716.5h2.5M466.4 715.25v2.5"/><path d="M466.25 716.5h2.5M467.5 715.25v2.5"/><path d="M466.75 716.5h2.5M468 715.25v2.5"/><path d="M467.25 716.5h2.5M468.5 715.25v2.5"/><path d="M467.75 716.5h2.5M469 715.25v2.5"/><path d="M468.25 716.5h2.5M469.5 715.25v2.5"/><path d="M468.75 716.5h2.5M470 715.25v2.5"/><path d="M469.25 716.5h2.5M470.5 715.25v2.5"/><path d="M469.75 716.5h2.5M471 715.25v2.5"/><path d="M470.25 716.5h2.5M471.5 715.25v2.5"/><path d="M470.75 716.5h2.5M472 715.25v2.5"/><path d="M471.25 716.5h2.5M472.5 715.25v2.5"/><path d="M471.75 716.5h2.5M473 715.25v2.5"/><path d="M472.25 716.5h2.5M473.5 715.25v2.5"/><path d="M472.75 716.5h2.5M474 715.25v2.5"/><path d="M473.25 716.5h2.5M474.5 715.25v2.5"/><path d="M473.75 716.5h2.5M475 715.25v2.5"/><path d="M474.25 716.5h2.5M475.5 715.25v2.5"/><path d="M474.75 716.5h2.5M476 715.25v2.5"/><path d="M475.25 716.5h2.5M476.5 715.25v2.5"/><path d="M475.75 716.5h2.5M477 715.25v2.5"/><path d="M476.25 716.5h2.5M477.5 715.25v2.5"/><path d="M476.75 716.5h2.5M478 715.25v2.5"/><path d="M477.25 716.5h2.5M478.5 715.25v2.5"/><path d="M477.75 716.5h2.5M479 715.25v2.5"/><path d="M478.25 716.5h2.5M479.5 715.25v2.5"/><path d="M478.75 716.5h2.5M480 715.25v2.5"/><path d="M479.25 716.5h2.5M480.5 715.25v2.5"/><path d="M518.55 716.5h2.5M519.8 715.25v2.5"/><path d="M519.15 716.5h2.5M520.4 715.25v2.5"/><path d="M519.75 716.5h2.5M521 715.25v2.5"/><path d="M520.35 716.5h2.5M521.6 715.25v2.5"/><path d="M520.95 716.5h2.5M522.2 715.25v2.5"/><path d="M521.55 716.5h2.5M522.8 715.25v2.5"/><path d="M522.15 716.5h2.5M523.4 715.25v2.5"/><path d="M522.75 716.5h2.5M524 715.25v2.5"/><path d="M525.35 716.5h2.5M526.6 715.25v2.5"/><path d="M529.15 716.5h2.5M530.4 715.25v2.5"/><path d="M530.05 716.5h2.5M531.3 715.25v2.5"/><path d="M531 716.5h2.5M532.25 715.25v2.5"/><path d="M533.65 716.5h2.5M534.9 715.25v2.5"/><path d="M534.75 716.5h2.5M536 715.25v2.5"/><path d="M537 716.5h2.5M538.25 715.25v2.5"/><path d="M538.15 716.5h2.5M539.4 715.25v2.5"/><path d="M539.25 716.5h2.5M540.5 715.25v2.5"/><path d="M540.35 716.5h2.5M541.6 715.25v2.5"/><path d="M541.25 716.5h2.5M542.5 715.25v2.5"/><path d="M542.15 716.5h2.5M543.4 715.25v2.5"/><path d="M543.05 716.5h2.5M544.3 715.25v2.5"/><path d="M543.95 716.5h2.5M545.2 715.25v2.5"/><path d="M544.85 716.5h2.5M546.1 715.25v2.5"/><path d="M545.75 716.5h2.5M547 715.25v2.5"/><path d="M546.65 716.5h2.5M547.9 715.25v2.5"/><path d="M547.55 716.5h2.5M548.8 715.25v2.5"/><path d="M548.45 716.5h2.5M549.7 715.25v2.5"/><path d="M549.35 716.5h2.5M550.6 715.25v2.5"/><path d="M550.25 716.5h2.5M551.5 715.25v2.5"/><path d="M551.15 716.5h2.5M552.4 715.25v2.5"/><path d="M552.05 716.5h2.5M553.3 715.25v2.5"/><path d="M555.75 716.5h2.5M557 715.25v2.5"/><path d="M557.25 716.5h2.5M558.5 715.25v2.5"/><path d="M558.75 716.5h2.5M560 715.25v2.5"/><path d="M565.15 716.5h2.5M566.4 715.25v2.5"/></g>
<rect x="495.45" y="740.3" width="1.9" height="49.1" fill="#f0201a"/>
<rect x="438.2" y="691.4" width="146.3" height="98" fill="none" stroke="#707070" stroke-width="1.0"/>
<path d="M438.2 789.4v-1.2M456.48 789.4v-1.2M474.76 789.4v-1.2M493.04 789.4v-1.2M511.32 789.4v-1.2M529.6 789.4v-1.2M547.88 789.4v-1.2M566.16 789.4v-1.2M584.44 789.4v-1.2M438.2 789.4h1.2M438.2 779.6h1.2M438.2 769.8h1.2M438.2 760h1.2M438.2 750.2h1.2M438.2 740.4h1.2" stroke="#555" stroke-width="0.5"/>
<g font-size="4.5" text-anchor="middle" fill="#3a3a3a"><text x="438.2" y="794.9" textLength="2.74" lengthAdjust="spacingAndGlyphs">0</text><text x="456.48" y="794.9" textLength="2.74" lengthAdjust="spacingAndGlyphs">2</text><text x="474.76" y="794.9" textLength="2.74" lengthAdjust="spacingAndGlyphs">4</text><text x="493.04" y="794.9" textLength="2.74" lengthAdjust="spacingAndGlyphs">6</text><text x="511.32" y="794.9" textLength="2.74" lengthAdjust="spacingAndGlyphs">8</text><text x="529.6" y="794.9" textLength="5.47" lengthAdjust="spacingAndGlyphs">10</text><text x="547.88" y="794.9" textLength="5.47" lengthAdjust="spacingAndGlyphs">12</text><text x="566.16" y="794.9" textLength="5.47" lengthAdjust="spacingAndGlyphs">14</text><text x="584.44" y="794.9" textLength="5.47" lengthAdjust="spacingAndGlyphs">16</text></g>
<g font-size="4.5" text-anchor="end" fill="#3a3a3a"><text x="436.6" y="790.9" textLength="2.74" lengthAdjust="spacingAndGlyphs">0</text><text x="436.6" y="781.1" textLength="8.21" lengthAdjust="spacingAndGlyphs">500</text><text x="436.6" y="771.3" textLength="10.94" lengthAdjust="spacingAndGlyphs">1000</text><text x="436.6" y="761.5" textLength="10.94" lengthAdjust="spacingAndGlyphs">1500</text><text x="436.6" y="751.7" textLength="10.94" lengthAdjust="spacingAndGlyphs">2000</text><text x="436.6" y="741.9" textLength="10.94" lengthAdjust="spacingAndGlyphs">2500</text></g>
<g font-size="4.8" letter-spacing="0" text-anchor="middle" fill="#111"><text x="511.35" y="685.1" textLength="78.4" lengthAdjust="spacing">CDK4 expression in TH34_1352_S01</text><text x="511.35" y="689.6" textLength="93.47" lengthAdjust="spacing">Background cohort: Pan-Cancer (n=11456)</text></g>
<g fill="#cfcfcf" stroke="#333" stroke-width="0.58"><rect x="481.5" y="917.5" width="2" height="2"/><rect x="483.5" y="917.5" width="2" height="2"/><rect x="485.5" y="917.5" width="2" height="2"/><rect x="487.5" y="916.5" width="2" height="3"/><rect x="489.5" y="915.5" width="2" height="4"/><rect x="491.5" y="907.5" width="2" height="12"/><rect x="493.5" y="888.5" width="2" height="31"/><rect x="495.5" y="876.5" width="2" height="43"/><rect x="497.5" y="876.5" width="2" height="43"/><rect x="499.5" y="881.5" width="2" height="38"/><rect x="501.5" y="876.5" width="2" height="43"/><rect x="503.5" y="897.5" width="2" height="22"/><rect x="505.5" y="899.5" width="2" height="20"/><rect x="507.5" y="914.5" width="2" height="5"/><rect x="509.5" y="914.5" width="2" height="5"/><rect x="511.5" y="914.5" width="2" height="5"/><rect x="513.5" y="916.5" width="2" height="3"/><rect x="515.5" y="917.5" width="2" height="2"/><rect x="517.5" y="918.5" width="2" height="1"/><rect x="519.5" y="918.5" width="2" height="1"/></g>
<g stroke="#333" stroke-width="0.75" fill="none"><path d="M487.9 846.5H496.5M503.5 846.5H513.3"/><rect x="496.5" y="833.5" width="7" height="25" fill="#fff"/></g>
<path d="M500.5 833.5V858.5" stroke="#000" stroke-width="1.0"/>
<rect x="513.3" y="821.9" width="70.9" height="97.6" fill="#e7fd0f" fill-opacity="0.5"/>
<g stroke="#000" stroke-opacity="0.7" stroke-width="0.85" fill="none"><path d="M481.95 846.5h2.5M483.2 845.25v2.5"/><path d="M483.55 846.5h2.5M484.8 845.25v2.5"/><path d="M485.05 846.5h2.5M486.3 845.25v2.5"/><path d="M515.95 846.5h2.5M517.2 845.25v2.5"/><path d="M533.75 846.5h2.5M535 845.25v2.5"/><path d="M535.15 846.5h2.5M536.4 845.25v2.5"/><path d="M536.15 846.5h2.5M537.4 845.25v2.5"/><path d="M539.25 846.5h2.5M540.5 845.25v2.5"/><path d="M548.55 846.5h2.5M549.8 845.25v2.5"/></g>
<rect x="495.05" y="870.4" width="1.9" height="49.1" fill="#f0201a"/>
<rect x="437.8" y="821.9" width="146.4" height="97.6" fill="none" stroke="#707070" stroke-width="1.0"/>
<path d="M437.8 919.5v-1.2M456.1 919.5v-1.2M474.4 919.5v-1.2M492.7 919.5v-1.2M511 919.5v-1.2M529.3 919.5v-1.2M547.6 919.5v-1.2M565.9 919.5v-1.2M584.2 919.5v-1.2M437.8 919.5h1.2M437.8 912.51h1.2M437.8 905.53h1.2M437.8 898.54h1.2M437.8 891.56h1.2M437.8 884.57h1.2M437.8 877.59h1.2M437.8 870.6h1.2" stroke="#555" stroke-width="0.5"/>
<g font-size="4.5" text-anchor="middle" fill="#3a3a3a"><text x="437.8" y="925" textLength="2.74" lengthAdjust="spacingAndGlyphs">0</text><text x="456.1" y="925" textLength="2.74" lengthAdjust="spacingAndGlyphs">2</text><text x="474.4" y="925" textLength="2.74" lengthAdjust="spacingAndGlyphs">4</text><text x="492.7" y="925" textLength="2.74" lengthAdjust="spacingAndGlyphs">6</text><text x="511" y="925" textLength="2.74" lengthAdjust="spacingAndGlyphs">8</text><text x="529.3" y="925" textLength="5.47" lengthAdjust="spacingAndGlyphs">10</text><text x="547.6" y="925" textLength="5.47" lengthAdjust="spacingAndGlyphs">12</text><text x="565.9" y="925" textLength="5.47" lengthAdjust="spacingAndGlyphs">14</text><text x="584.2" y="925" textLength="5.47" lengthAdjust="spacingAndGlyphs">16</text></g>
<g font-size="4.5" text-anchor="end" fill="#3a3a3a"><text x="436.2" y="921" textLength="2.74" lengthAdjust="spacingAndGlyphs">0</text><text x="436.2" y="914.01" textLength="5.47" lengthAdjust="spacingAndGlyphs">10</text><text x="436.2" y="907.03" textLength="5.47" lengthAdjust="spacingAndGlyphs">20</text><text x="436.2" y="900.04" textLength="5.47" lengthAdjust="spacingAndGlyphs">30</text><text x="436.2" y="893.06" textLength="5.47" lengthAdjust="spacingAndGlyphs">40</text><text x="436.2" y="886.07" textLength="5.47" lengthAdjust="spacingAndGlyphs">50</text><text x="436.2" y="879.09" textLength="5.47" lengthAdjust="spacingAndGlyphs">60</text><text x="436.2" y="872.1" textLength="5.47" lengthAdjust="spacingAndGlyphs">70</text></g>
<g font-size="4.8" letter-spacing="0" text-anchor="middle" fill="#111"><text x="511" y="815.6" textLength="78.4" lengthAdjust="spacing">CDK4 expression in TH34_1352_S01</text><text x="511" y="820.1" textLength="127.49" lengthAdjust="spacing">Background cohort: First and Second-Degree MCS (n=339)</text></g>
<g font-size="22.8" font-weight="bold" fill="#000"><text x="14.2" y="17.6">a</text><text x="225.75" y="17.5">b</text><text x="435.8" y="17.6">c</text><text x="649.9" y="17.5">d</text><text x="14.1" y="331.3">e</text><text x="228.65" y="331">f</text><text x="435.3" y="331.2">g</text><text x="650.1" y="330.75">h</text><text x="17.4" y="659.3">i</text><text x="229.2" y="659.6">j</text><text x="435.9" y="659.6">k</text></g>
</svg>
</body></html>
